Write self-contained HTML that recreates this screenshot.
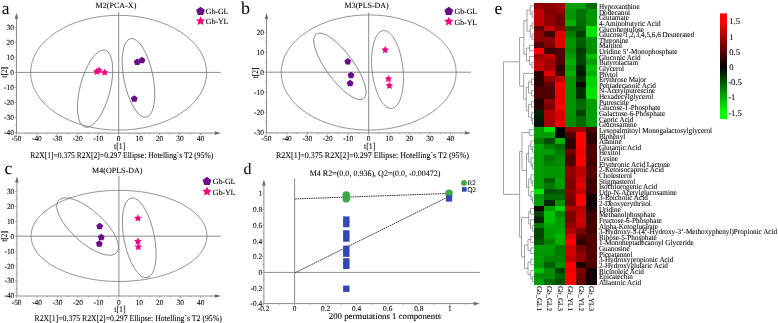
<!DOCTYPE html><html><head><meta charset="utf-8"><style>html,body{margin:0;padding:0;background:#fff;width:778px;height:323px;overflow:hidden}svg{display:block;font-family:"Liberation Serif",serif;text-rendering:geometricPrecision;will-change:transform;filter:blur(0.3px)} text{stroke:#000;stroke-width:0.08px}</style></head><body><svg width="778" height="323" viewBox="0 0 778 323" font-family="Liberation Serif">
<rect width="778" height="323" fill="#fff"/>
<line x1="118.70" y1="12.10" x2="118.70" y2="133.10" stroke="#8c8c8c" stroke-width="1" />
<line x1="16.50" y1="72.40" x2="220.90" y2="72.40" stroke="#8c8c8c" stroke-width="1" />
<ellipse cx="118.60" cy="72.70" rx="88.00" ry="57.40" transform="rotate(0.00 118.60 72.70)" fill="none" stroke="#7a7a7a" stroke-width="0.8"/>
<ellipse cx="95.10" cy="88.65" rx="15.08" ry="39.83" transform="rotate(14.50 95.10 88.65)" fill="none" stroke="#7a7a7a" stroke-width="0.8"/>
<ellipse cx="138.46" cy="77.91" rx="14.58" ry="40.05" transform="rotate(-11.30 138.46 77.91)" fill="none" stroke="#7a7a7a" stroke-width="0.8"/>
<line x1="16.50" y1="133.10" x2="218.90" y2="133.10" stroke="#8c8c8c" stroke-width="1" />
<line x1="16.50" y1="133.10" x2="16.50" y2="14.80" stroke="#8c8c8c" stroke-width="1" />
<polygon points="16.50,12.80 14.70,18.80 18.30,18.80" fill="#6e6e6e"/>
<polygon points="220.90,133.10 214.90,131.30 214.90,134.90" fill="#6e6e6e"/>
<line x1="16.45" y1="133.10" x2="16.45" y2="134.90" stroke="#8c8c8c" stroke-width="0.8" />
<text x="16.45" y="141.20" font-size="7.8" text-anchor="middle" fill="#000"  textLength="9.86" lengthAdjust="spacingAndGlyphs">-50</text>
<line x1="26.68" y1="133.10" x2="26.68" y2="134.30" stroke="#8c8c8c" stroke-width="0.8" />
<line x1="36.90" y1="133.10" x2="36.90" y2="134.90" stroke="#8c8c8c" stroke-width="0.8" />
<text x="36.90" y="141.20" font-size="7.8" text-anchor="middle" fill="#000"  textLength="9.86" lengthAdjust="spacingAndGlyphs">-40</text>
<line x1="47.12" y1="133.10" x2="47.12" y2="134.30" stroke="#8c8c8c" stroke-width="0.8" />
<line x1="57.35" y1="133.10" x2="57.35" y2="134.90" stroke="#8c8c8c" stroke-width="0.8" />
<text x="57.35" y="141.20" font-size="7.8" text-anchor="middle" fill="#000"  textLength="9.86" lengthAdjust="spacingAndGlyphs">-30</text>
<line x1="67.58" y1="133.10" x2="67.58" y2="134.30" stroke="#8c8c8c" stroke-width="0.8" />
<line x1="77.80" y1="133.10" x2="77.80" y2="134.90" stroke="#8c8c8c" stroke-width="0.8" />
<text x="77.80" y="141.20" font-size="7.8" text-anchor="middle" fill="#000"  textLength="9.86" lengthAdjust="spacingAndGlyphs">-20</text>
<line x1="88.03" y1="133.10" x2="88.03" y2="134.30" stroke="#8c8c8c" stroke-width="0.8" />
<line x1="98.25" y1="133.10" x2="98.25" y2="134.90" stroke="#8c8c8c" stroke-width="0.8" />
<text x="98.25" y="141.20" font-size="7.8" text-anchor="middle" fill="#000"  textLength="9.86" lengthAdjust="spacingAndGlyphs">-10</text>
<line x1="108.48" y1="133.10" x2="108.48" y2="134.30" stroke="#8c8c8c" stroke-width="0.8" />
<line x1="118.70" y1="133.10" x2="118.70" y2="134.90" stroke="#8c8c8c" stroke-width="0.8" />
<text x="118.70" y="141.20" font-size="7.8" text-anchor="middle" fill="#000"  textLength="3.70" lengthAdjust="spacingAndGlyphs">0</text>
<line x1="128.93" y1="133.10" x2="128.93" y2="134.30" stroke="#8c8c8c" stroke-width="0.8" />
<line x1="139.15" y1="133.10" x2="139.15" y2="134.90" stroke="#8c8c8c" stroke-width="0.8" />
<text x="139.15" y="141.20" font-size="7.8" text-anchor="middle" fill="#000"  textLength="7.40" lengthAdjust="spacingAndGlyphs">10</text>
<line x1="149.38" y1="133.10" x2="149.38" y2="134.30" stroke="#8c8c8c" stroke-width="0.8" />
<line x1="159.60" y1="133.10" x2="159.60" y2="134.90" stroke="#8c8c8c" stroke-width="0.8" />
<text x="159.60" y="141.20" font-size="7.8" text-anchor="middle" fill="#000"  textLength="7.40" lengthAdjust="spacingAndGlyphs">20</text>
<line x1="169.82" y1="133.10" x2="169.82" y2="134.30" stroke="#8c8c8c" stroke-width="0.8" />
<line x1="180.05" y1="133.10" x2="180.05" y2="134.90" stroke="#8c8c8c" stroke-width="0.8" />
<text x="180.05" y="141.20" font-size="7.8" text-anchor="middle" fill="#000"  textLength="7.40" lengthAdjust="spacingAndGlyphs">30</text>
<line x1="190.28" y1="133.10" x2="190.28" y2="134.30" stroke="#8c8c8c" stroke-width="0.8" />
<line x1="200.50" y1="133.10" x2="200.50" y2="134.90" stroke="#8c8c8c" stroke-width="0.8" />
<text x="200.50" y="141.20" font-size="7.8" text-anchor="middle" fill="#000"  textLength="7.40" lengthAdjust="spacingAndGlyphs">40</text>
<line x1="210.72" y1="133.10" x2="210.72" y2="134.30" stroke="#8c8c8c" stroke-width="0.8" />
<line x1="14.70" y1="132.72" x2="16.50" y2="132.72" stroke="#8c8c8c" stroke-width="0.8" />
<text x="13.90" y="135.22" font-size="7.8" text-anchor="end" fill="#000"  textLength="9.86" lengthAdjust="spacingAndGlyphs">-40</text>
<line x1="15.30" y1="125.18" x2="16.50" y2="125.18" stroke="#8c8c8c" stroke-width="0.8" />
<line x1="14.70" y1="117.64" x2="16.50" y2="117.64" stroke="#8c8c8c" stroke-width="0.8" />
<text x="13.90" y="120.14" font-size="7.8" text-anchor="end" fill="#000"  textLength="9.86" lengthAdjust="spacingAndGlyphs">-30</text>
<line x1="15.30" y1="110.10" x2="16.50" y2="110.10" stroke="#8c8c8c" stroke-width="0.8" />
<line x1="14.70" y1="102.56" x2="16.50" y2="102.56" stroke="#8c8c8c" stroke-width="0.8" />
<text x="13.90" y="105.06" font-size="7.8" text-anchor="end" fill="#000"  textLength="9.86" lengthAdjust="spacingAndGlyphs">-20</text>
<line x1="15.30" y1="95.02" x2="16.50" y2="95.02" stroke="#8c8c8c" stroke-width="0.8" />
<line x1="14.70" y1="87.48" x2="16.50" y2="87.48" stroke="#8c8c8c" stroke-width="0.8" />
<text x="13.90" y="89.98" font-size="7.8" text-anchor="end" fill="#000"  textLength="9.86" lengthAdjust="spacingAndGlyphs">-10</text>
<line x1="15.30" y1="79.94" x2="16.50" y2="79.94" stroke="#8c8c8c" stroke-width="0.8" />
<line x1="14.70" y1="72.40" x2="16.50" y2="72.40" stroke="#8c8c8c" stroke-width="0.8" />
<text x="13.90" y="74.90" font-size="7.8" text-anchor="end" fill="#000"  textLength="3.70" lengthAdjust="spacingAndGlyphs">0</text>
<line x1="15.30" y1="64.86" x2="16.50" y2="64.86" stroke="#8c8c8c" stroke-width="0.8" />
<line x1="14.70" y1="57.32" x2="16.50" y2="57.32" stroke="#8c8c8c" stroke-width="0.8" />
<text x="13.90" y="59.82" font-size="7.8" text-anchor="end" fill="#000"  textLength="7.40" lengthAdjust="spacingAndGlyphs">10</text>
<line x1="15.30" y1="49.78" x2="16.50" y2="49.78" stroke="#8c8c8c" stroke-width="0.8" />
<line x1="14.70" y1="42.24" x2="16.50" y2="42.24" stroke="#8c8c8c" stroke-width="0.8" />
<text x="13.90" y="44.74" font-size="7.8" text-anchor="end" fill="#000"  textLength="7.40" lengthAdjust="spacingAndGlyphs">20</text>
<line x1="15.30" y1="34.70" x2="16.50" y2="34.70" stroke="#8c8c8c" stroke-width="0.8" />
<line x1="14.70" y1="27.16" x2="16.50" y2="27.16" stroke="#8c8c8c" stroke-width="0.8" />
<text x="13.90" y="29.66" font-size="7.8" text-anchor="end" fill="#000"  textLength="7.40" lengthAdjust="spacingAndGlyphs">30</text>
<text x="119.70" y="149.00" font-size="8.8" text-anchor="middle" fill="#000"  textLength="11.41" lengthAdjust="spacingAndGlyphs">t[1]</text>
<text x="4.40" y="72.30" font-size="8.6" text-anchor="middle" fill="#000" transform="rotate(-90 4.40 72.30)" dominant-baseline="central" textLength="10.68" lengthAdjust="spacingAndGlyphs">t[2]</text>
<text x="95.60" y="7.90" font-size="8" text-anchor="start" fill="#000" textLength="40.7">M2(PCA-X)</text>
<text x="30.30" y="157.60" font-size="8.7" text-anchor="start" fill="#000" textLength="183.0" lengthAdjust="spacingAndGlyphs">R2X[1]=0.375 R2X[2]=0.297 Ellipse: Hotelling`s T2 (95%)</text>
<polygon points="137.20,58.40 140.62,60.89 139.32,64.91 135.08,64.91 133.78,60.89" fill="#6a0a86"/>
<polygon points="141.90,56.80 145.32,59.29 144.02,63.31 139.78,63.31 138.48,59.29" fill="#6a0a86"/>
<polygon points="134.30,95.20 137.72,97.69 136.42,101.71 132.18,101.71 130.88,97.69" fill="#6a0a86"/>
<polygon points="96.80,67.70 97.98,70.08 100.60,70.46 98.70,72.32 99.15,74.94 96.80,73.70 94.45,74.94 94.90,72.32 93.00,70.46 95.62,70.08" fill="#f0077f"/>
<polygon points="99.00,66.30 100.18,68.68 102.80,69.06 100.90,70.92 101.35,73.54 99.00,72.30 96.65,73.54 97.10,70.92 95.20,69.06 97.82,68.68" fill="#f0077f"/>
<polygon points="104.70,68.50 105.88,70.88 108.50,71.26 106.60,73.12 107.05,75.74 104.70,74.50 102.35,75.74 102.80,73.12 100.90,71.26 103.52,70.88" fill="#f0077f"/>
<polygon points="200.50,6.70 204.87,9.88 203.20,15.02 197.80,15.02 196.13,9.88" fill="#6a0a86"/>
<polygon points="200.50,16.30 201.91,19.16 205.07,19.62 202.78,21.84 203.32,24.98 200.50,23.50 197.68,24.98 198.22,21.84 195.93,19.62 199.09,19.16" fill="#f0077f"/>
<text x="205.80" y="13.90" font-size="8" text-anchor="start" fill="#000" textLength="22.7">Gb-GL</text>
<text x="205.80" y="24.20" font-size="8" text-anchor="start" fill="#000" textLength="22.7">Gb-YL</text>
<text x="1.70" y="14.00" font-size="17.5" text-anchor="start" fill="#000" style="stroke:none">a</text>
<line x1="368.70" y1="12.60" x2="368.70" y2="132.90" stroke="#8c8c8c" stroke-width="1" />
<line x1="266.50" y1="72.20" x2="470.90" y2="72.20" stroke="#8c8c8c" stroke-width="1" />
<ellipse cx="368.70" cy="72.50" rx="87.50" ry="57.60" transform="rotate(0.00 368.70 72.50)" fill="none" stroke="#7a7a7a" stroke-width="0.8"/>
<ellipse cx="339.90" cy="66.35" rx="13.60" ry="40.10" transform="rotate(-36.30 339.90 66.35)" fill="none" stroke="#7a7a7a" stroke-width="0.8"/>
<ellipse cx="387.50" cy="69.50" rx="15.50" ry="39.20" transform="rotate(-6.20 387.50 69.50)" fill="none" stroke="#7a7a7a" stroke-width="0.8"/>
<line x1="266.50" y1="132.90" x2="468.90" y2="132.90" stroke="#8c8c8c" stroke-width="1" />
<line x1="266.50" y1="132.90" x2="266.50" y2="15.00" stroke="#8c8c8c" stroke-width="1" />
<polygon points="266.50,13.00 264.70,19.00 268.30,19.00" fill="#6e6e6e"/>
<polygon points="470.90,132.90 464.90,131.10 464.90,134.70" fill="#6e6e6e"/>
<line x1="266.45" y1="132.90" x2="266.45" y2="134.70" stroke="#8c8c8c" stroke-width="0.8" />
<text x="266.45" y="141.20" font-size="7.8" text-anchor="middle" fill="#000"  textLength="9.86" lengthAdjust="spacingAndGlyphs">-50</text>
<line x1="276.68" y1="132.90" x2="276.68" y2="134.10" stroke="#8c8c8c" stroke-width="0.8" />
<line x1="286.90" y1="132.90" x2="286.90" y2="134.70" stroke="#8c8c8c" stroke-width="0.8" />
<text x="286.90" y="141.20" font-size="7.8" text-anchor="middle" fill="#000"  textLength="9.86" lengthAdjust="spacingAndGlyphs">-40</text>
<line x1="297.12" y1="132.90" x2="297.12" y2="134.10" stroke="#8c8c8c" stroke-width="0.8" />
<line x1="307.35" y1="132.90" x2="307.35" y2="134.70" stroke="#8c8c8c" stroke-width="0.8" />
<text x="307.35" y="141.20" font-size="7.8" text-anchor="middle" fill="#000"  textLength="9.86" lengthAdjust="spacingAndGlyphs">-30</text>
<line x1="317.57" y1="132.90" x2="317.57" y2="134.10" stroke="#8c8c8c" stroke-width="0.8" />
<line x1="327.80" y1="132.90" x2="327.80" y2="134.70" stroke="#8c8c8c" stroke-width="0.8" />
<text x="327.80" y="141.20" font-size="7.8" text-anchor="middle" fill="#000"  textLength="9.86" lengthAdjust="spacingAndGlyphs">-20</text>
<line x1="338.02" y1="132.90" x2="338.02" y2="134.10" stroke="#8c8c8c" stroke-width="0.8" />
<line x1="348.25" y1="132.90" x2="348.25" y2="134.70" stroke="#8c8c8c" stroke-width="0.8" />
<text x="348.25" y="141.20" font-size="7.8" text-anchor="middle" fill="#000"  textLength="9.86" lengthAdjust="spacingAndGlyphs">-10</text>
<line x1="358.47" y1="132.90" x2="358.47" y2="134.10" stroke="#8c8c8c" stroke-width="0.8" />
<line x1="368.70" y1="132.90" x2="368.70" y2="134.70" stroke="#8c8c8c" stroke-width="0.8" />
<text x="368.70" y="141.20" font-size="7.8" text-anchor="middle" fill="#000"  textLength="3.70" lengthAdjust="spacingAndGlyphs">0</text>
<line x1="378.93" y1="132.90" x2="378.93" y2="134.10" stroke="#8c8c8c" stroke-width="0.8" />
<line x1="389.15" y1="132.90" x2="389.15" y2="134.70" stroke="#8c8c8c" stroke-width="0.8" />
<text x="389.15" y="141.20" font-size="7.8" text-anchor="middle" fill="#000"  textLength="7.40" lengthAdjust="spacingAndGlyphs">10</text>
<line x1="399.38" y1="132.90" x2="399.38" y2="134.10" stroke="#8c8c8c" stroke-width="0.8" />
<line x1="409.60" y1="132.90" x2="409.60" y2="134.70" stroke="#8c8c8c" stroke-width="0.8" />
<text x="409.60" y="141.20" font-size="7.8" text-anchor="middle" fill="#000"  textLength="7.40" lengthAdjust="spacingAndGlyphs">20</text>
<line x1="419.82" y1="132.90" x2="419.82" y2="134.10" stroke="#8c8c8c" stroke-width="0.8" />
<line x1="430.05" y1="132.90" x2="430.05" y2="134.70" stroke="#8c8c8c" stroke-width="0.8" />
<text x="430.05" y="141.20" font-size="7.8" text-anchor="middle" fill="#000"  textLength="7.40" lengthAdjust="spacingAndGlyphs">30</text>
<line x1="440.27" y1="132.90" x2="440.27" y2="134.10" stroke="#8c8c8c" stroke-width="0.8" />
<line x1="450.50" y1="132.90" x2="450.50" y2="134.70" stroke="#8c8c8c" stroke-width="0.8" />
<text x="450.50" y="141.20" font-size="7.8" text-anchor="middle" fill="#000"  textLength="7.40" lengthAdjust="spacingAndGlyphs">40</text>
<line x1="460.72" y1="132.90" x2="460.72" y2="134.10" stroke="#8c8c8c" stroke-width="0.8" />
<line x1="264.70" y1="132.20" x2="266.50" y2="132.20" stroke="#8c8c8c" stroke-width="0.8" />
<text x="263.90" y="134.70" font-size="7.8" text-anchor="end" fill="#000"  textLength="9.86" lengthAdjust="spacingAndGlyphs">-30</text>
<line x1="265.30" y1="122.20" x2="266.50" y2="122.20" stroke="#8c8c8c" stroke-width="0.8" />
<line x1="264.70" y1="112.20" x2="266.50" y2="112.20" stroke="#8c8c8c" stroke-width="0.8" />
<text x="263.90" y="114.70" font-size="7.8" text-anchor="end" fill="#000"  textLength="9.86" lengthAdjust="spacingAndGlyphs">-20</text>
<line x1="265.30" y1="102.20" x2="266.50" y2="102.20" stroke="#8c8c8c" stroke-width="0.8" />
<line x1="264.70" y1="92.20" x2="266.50" y2="92.20" stroke="#8c8c8c" stroke-width="0.8" />
<text x="263.90" y="94.70" font-size="7.8" text-anchor="end" fill="#000"  textLength="9.86" lengthAdjust="spacingAndGlyphs">-10</text>
<line x1="265.30" y1="82.20" x2="266.50" y2="82.20" stroke="#8c8c8c" stroke-width="0.8" />
<line x1="264.70" y1="72.20" x2="266.50" y2="72.20" stroke="#8c8c8c" stroke-width="0.8" />
<text x="263.90" y="74.70" font-size="7.8" text-anchor="end" fill="#000"  textLength="3.70" lengthAdjust="spacingAndGlyphs">0</text>
<line x1="265.30" y1="62.20" x2="266.50" y2="62.20" stroke="#8c8c8c" stroke-width="0.8" />
<line x1="264.70" y1="52.20" x2="266.50" y2="52.20" stroke="#8c8c8c" stroke-width="0.8" />
<text x="263.90" y="54.70" font-size="7.8" text-anchor="end" fill="#000"  textLength="7.40" lengthAdjust="spacingAndGlyphs">10</text>
<line x1="265.30" y1="42.20" x2="266.50" y2="42.20" stroke="#8c8c8c" stroke-width="0.8" />
<line x1="264.70" y1="32.20" x2="266.50" y2="32.20" stroke="#8c8c8c" stroke-width="0.8" />
<text x="263.90" y="34.70" font-size="7.8" text-anchor="end" fill="#000"  textLength="7.40" lengthAdjust="spacingAndGlyphs">20</text>
<text x="369.70" y="149.00" font-size="8.8" text-anchor="middle" fill="#000"  textLength="11.41" lengthAdjust="spacingAndGlyphs">t[1]</text>
<text x="254.80" y="73.00" font-size="8.6" text-anchor="middle" fill="#000" transform="rotate(-90 254.80 73.00)" dominant-baseline="central" textLength="10.68" lengthAdjust="spacingAndGlyphs">t[2]</text>
<text x="344.60" y="8.10" font-size="8" text-anchor="start" fill="#000" textLength="44.1">M3(PLS-DA)</text>
<text x="275.90" y="157.60" font-size="8.7" text-anchor="start" fill="#000" textLength="193.0" lengthAdjust="spacingAndGlyphs">R2X[1]=0.375 R2X[2]=0.297 Ellipse: Hotelling`s T2 (95%)</text>
<polygon points="347.80,58.00 351.22,60.49 349.92,64.51 345.68,64.51 344.38,60.49" fill="#6a0a86"/>
<polygon points="351.00,71.70 354.42,74.19 353.12,78.21 348.88,78.21 347.58,74.19" fill="#6a0a86"/>
<polygon points="350.10,79.80 353.52,82.29 352.22,86.31 347.98,86.31 346.68,82.29" fill="#6a0a86"/>
<polygon points="385.20,45.90 386.38,48.28 389.00,48.66 387.10,50.52 387.55,53.14 385.20,51.90 382.85,53.14 383.30,50.52 381.40,48.66 384.02,48.28" fill="#f0077f"/>
<polygon points="388.50,74.90 389.68,77.28 392.30,77.66 390.40,79.52 390.85,82.14 388.50,80.90 386.15,82.14 386.60,79.52 384.70,77.66 387.32,77.28" fill="#f0077f"/>
<polygon points="389.40,81.70 390.58,84.08 393.20,84.46 391.30,86.32 391.75,88.94 389.40,87.70 387.05,88.94 387.50,86.32 385.60,84.46 388.22,84.08" fill="#f0077f"/>
<polygon points="448.80,6.80 453.17,9.98 451.50,15.12 446.10,15.12 444.43,9.98" fill="#6a0a86"/>
<polygon points="448.80,16.70 450.21,19.56 453.37,20.02 451.08,22.24 451.62,25.38 448.80,23.90 445.98,25.38 446.52,22.24 444.23,20.02 447.39,19.56" fill="#f0077f"/>
<text x="454.50" y="14.00" font-size="8" text-anchor="start" fill="#000" textLength="22.7">Gb-GL</text>
<text x="454.50" y="24.60" font-size="8" text-anchor="start" fill="#000" textLength="22.7">Gb-YL</text>
<text x="241.00" y="14.10" font-size="18" text-anchor="start" fill="#000" style="stroke:none">b</text>
<line x1="118.90" y1="176.00" x2="118.90" y2="296.00" stroke="#8c8c8c" stroke-width="1" />
<line x1="16.90" y1="236.20" x2="220.90" y2="236.20" stroke="#8c8c8c" stroke-width="1" />
<ellipse cx="119.00" cy="235.90" rx="88.00" ry="45.60" transform="rotate(0.00 119.00 235.90)" fill="none" stroke="#7a7a7a" stroke-width="0.8"/>
<ellipse cx="87.60" cy="226.55" rx="15.90" ry="39.10" transform="rotate(-47.90 87.60 226.55)" fill="none" stroke="#7a7a7a" stroke-width="0.8"/>
<ellipse cx="139.20" cy="237.85" rx="15.20" ry="40.60" transform="rotate(-11.25 139.20 237.85)" fill="none" stroke="#7a7a7a" stroke-width="0.8"/>
<line x1="16.90" y1="296.00" x2="218.90" y2="296.00" stroke="#8c8c8c" stroke-width="1" />
<line x1="16.90" y1="296.00" x2="16.90" y2="178.60" stroke="#8c8c8c" stroke-width="1" />
<polygon points="16.90,176.60 15.10,182.60 18.70,182.60" fill="#6e6e6e"/>
<polygon points="220.90,296.00 214.90,294.20 214.90,297.80" fill="#6e6e6e"/>
<line x1="16.65" y1="296.00" x2="16.65" y2="297.80" stroke="#8c8c8c" stroke-width="0.8" />
<text x="16.65" y="305.30" font-size="7.8" text-anchor="middle" fill="#000"  textLength="9.86" lengthAdjust="spacingAndGlyphs">-50</text>
<line x1="26.88" y1="296.00" x2="26.88" y2="297.20" stroke="#8c8c8c" stroke-width="0.8" />
<line x1="37.10" y1="296.00" x2="37.10" y2="297.80" stroke="#8c8c8c" stroke-width="0.8" />
<text x="37.10" y="305.30" font-size="7.8" text-anchor="middle" fill="#000"  textLength="9.86" lengthAdjust="spacingAndGlyphs">-40</text>
<line x1="47.33" y1="296.00" x2="47.33" y2="297.20" stroke="#8c8c8c" stroke-width="0.8" />
<line x1="57.55" y1="296.00" x2="57.55" y2="297.80" stroke="#8c8c8c" stroke-width="0.8" />
<text x="57.55" y="305.30" font-size="7.8" text-anchor="middle" fill="#000"  textLength="9.86" lengthAdjust="spacingAndGlyphs">-30</text>
<line x1="67.78" y1="296.00" x2="67.78" y2="297.20" stroke="#8c8c8c" stroke-width="0.8" />
<line x1="78.00" y1="296.00" x2="78.00" y2="297.80" stroke="#8c8c8c" stroke-width="0.8" />
<text x="78.00" y="305.30" font-size="7.8" text-anchor="middle" fill="#000"  textLength="9.86" lengthAdjust="spacingAndGlyphs">-20</text>
<line x1="88.23" y1="296.00" x2="88.23" y2="297.20" stroke="#8c8c8c" stroke-width="0.8" />
<line x1="98.45" y1="296.00" x2="98.45" y2="297.80" stroke="#8c8c8c" stroke-width="0.8" />
<text x="98.45" y="305.30" font-size="7.8" text-anchor="middle" fill="#000"  textLength="9.86" lengthAdjust="spacingAndGlyphs">-10</text>
<line x1="108.68" y1="296.00" x2="108.68" y2="297.20" stroke="#8c8c8c" stroke-width="0.8" />
<line x1="118.90" y1="296.00" x2="118.90" y2="297.80" stroke="#8c8c8c" stroke-width="0.8" />
<text x="118.90" y="305.30" font-size="7.8" text-anchor="middle" fill="#000"  textLength="3.70" lengthAdjust="spacingAndGlyphs">0</text>
<line x1="129.12" y1="296.00" x2="129.12" y2="297.20" stroke="#8c8c8c" stroke-width="0.8" />
<line x1="139.35" y1="296.00" x2="139.35" y2="297.80" stroke="#8c8c8c" stroke-width="0.8" />
<text x="139.35" y="305.30" font-size="7.8" text-anchor="middle" fill="#000"  textLength="7.40" lengthAdjust="spacingAndGlyphs">10</text>
<line x1="149.57" y1="296.00" x2="149.57" y2="297.20" stroke="#8c8c8c" stroke-width="0.8" />
<line x1="159.80" y1="296.00" x2="159.80" y2="297.80" stroke="#8c8c8c" stroke-width="0.8" />
<text x="159.80" y="305.30" font-size="7.8" text-anchor="middle" fill="#000"  textLength="7.40" lengthAdjust="spacingAndGlyphs">20</text>
<line x1="170.03" y1="296.00" x2="170.03" y2="297.20" stroke="#8c8c8c" stroke-width="0.8" />
<line x1="180.25" y1="296.00" x2="180.25" y2="297.80" stroke="#8c8c8c" stroke-width="0.8" />
<text x="180.25" y="305.30" font-size="7.8" text-anchor="middle" fill="#000"  textLength="7.40" lengthAdjust="spacingAndGlyphs">30</text>
<line x1="190.48" y1="296.00" x2="190.48" y2="297.20" stroke="#8c8c8c" stroke-width="0.8" />
<line x1="200.70" y1="296.00" x2="200.70" y2="297.80" stroke="#8c8c8c" stroke-width="0.8" />
<text x="200.70" y="305.30" font-size="7.8" text-anchor="middle" fill="#000"  textLength="7.40" lengthAdjust="spacingAndGlyphs">40</text>
<line x1="210.93" y1="296.00" x2="210.93" y2="297.20" stroke="#8c8c8c" stroke-width="0.8" />
<line x1="15.10" y1="295.80" x2="16.90" y2="295.80" stroke="#8c8c8c" stroke-width="0.8" />
<text x="14.30" y="298.30" font-size="7.8" text-anchor="end" fill="#000"  textLength="9.86" lengthAdjust="spacingAndGlyphs">-40</text>
<line x1="15.70" y1="288.35" x2="16.90" y2="288.35" stroke="#8c8c8c" stroke-width="0.8" />
<line x1="15.10" y1="280.90" x2="16.90" y2="280.90" stroke="#8c8c8c" stroke-width="0.8" />
<text x="14.30" y="283.40" font-size="7.8" text-anchor="end" fill="#000"  textLength="9.86" lengthAdjust="spacingAndGlyphs">-30</text>
<line x1="15.70" y1="273.45" x2="16.90" y2="273.45" stroke="#8c8c8c" stroke-width="0.8" />
<line x1="15.10" y1="266.00" x2="16.90" y2="266.00" stroke="#8c8c8c" stroke-width="0.8" />
<text x="14.30" y="268.50" font-size="7.8" text-anchor="end" fill="#000"  textLength="9.86" lengthAdjust="spacingAndGlyphs">-20</text>
<line x1="15.70" y1="258.55" x2="16.90" y2="258.55" stroke="#8c8c8c" stroke-width="0.8" />
<line x1="15.10" y1="251.10" x2="16.90" y2="251.10" stroke="#8c8c8c" stroke-width="0.8" />
<text x="14.30" y="253.60" font-size="7.8" text-anchor="end" fill="#000"  textLength="9.86" lengthAdjust="spacingAndGlyphs">-10</text>
<line x1="15.70" y1="243.65" x2="16.90" y2="243.65" stroke="#8c8c8c" stroke-width="0.8" />
<line x1="15.10" y1="236.20" x2="16.90" y2="236.20" stroke="#8c8c8c" stroke-width="0.8" />
<text x="14.30" y="238.70" font-size="7.8" text-anchor="end" fill="#000"  textLength="3.70" lengthAdjust="spacingAndGlyphs">0</text>
<line x1="15.70" y1="228.75" x2="16.90" y2="228.75" stroke="#8c8c8c" stroke-width="0.8" />
<line x1="15.10" y1="221.30" x2="16.90" y2="221.30" stroke="#8c8c8c" stroke-width="0.8" />
<text x="14.30" y="223.80" font-size="7.8" text-anchor="end" fill="#000"  textLength="7.40" lengthAdjust="spacingAndGlyphs">10</text>
<line x1="15.70" y1="213.85" x2="16.90" y2="213.85" stroke="#8c8c8c" stroke-width="0.8" />
<line x1="15.10" y1="206.40" x2="16.90" y2="206.40" stroke="#8c8c8c" stroke-width="0.8" />
<text x="14.30" y="208.90" font-size="7.8" text-anchor="end" fill="#000"  textLength="7.40" lengthAdjust="spacingAndGlyphs">20</text>
<line x1="15.70" y1="198.95" x2="16.90" y2="198.95" stroke="#8c8c8c" stroke-width="0.8" />
<line x1="15.10" y1="191.50" x2="16.90" y2="191.50" stroke="#8c8c8c" stroke-width="0.8" />
<text x="14.30" y="194.00" font-size="7.8" text-anchor="end" fill="#000"  textLength="7.40" lengthAdjust="spacingAndGlyphs">30</text>
<text x="119.90" y="312.40" font-size="8.8" text-anchor="middle" fill="#000"  textLength="11.41" lengthAdjust="spacingAndGlyphs">t[1]</text>
<text x="4.00" y="236.40" font-size="8.6" text-anchor="middle" fill="#000" transform="rotate(-90 4.00 236.40)" dominant-baseline="central" textLength="10.68" lengthAdjust="spacingAndGlyphs">t[2]</text>
<text x="92.10" y="173.40" font-size="8" text-anchor="start" fill="#000" textLength="50.4">M4(OPLS-DA)</text>
<text x="34.50" y="320.60" font-size="8.7" text-anchor="start" fill="#000" textLength="187.3" lengthAdjust="spacingAndGlyphs">R2X[1]=0.375 R2X[2]=0.297 Ellipse: Hotelling`s T2 (95%)</text>
<polygon points="99.70,222.80 103.12,225.29 101.82,229.31 97.58,229.31 96.28,225.29" fill="#6a0a86"/>
<polygon points="101.30,233.80 104.72,236.29 103.42,240.31 99.18,240.31 97.88,236.29" fill="#6a0a86"/>
<polygon points="99.30,240.30 102.72,242.79 101.42,246.81 97.18,246.81 95.88,242.79" fill="#6a0a86"/>
<polygon points="137.90,214.30 139.08,216.68 141.70,217.06 139.80,218.92 140.25,221.54 137.90,220.30 135.55,221.54 136.00,218.92 134.10,217.06 136.72,216.68" fill="#f0077f"/>
<polygon points="137.90,237.40 139.08,239.78 141.70,240.16 139.80,242.02 140.25,244.64 137.90,243.40 135.55,244.64 136.00,242.02 134.10,240.16 136.72,239.78" fill="#f0077f"/>
<polygon points="138.30,243.00 139.48,245.38 142.10,245.76 140.20,247.62 140.65,250.24 138.30,249.00 135.95,250.24 136.40,247.62 134.50,245.76 137.12,245.38" fill="#f0077f"/>
<polygon points="207.00,176.70 211.37,179.88 209.70,185.02 204.30,185.02 202.63,179.88" fill="#6a0a86"/>
<polygon points="207.00,186.70 208.41,189.56 211.57,190.02 209.28,192.24 209.82,195.38 207.00,193.90 204.18,195.38 204.72,192.24 202.43,190.02 205.59,189.56" fill="#f0077f"/>
<text x="212.75" y="183.90" font-size="8" text-anchor="start" fill="#000" textLength="22.7">Gb-GL</text>
<text x="212.75" y="194.60" font-size="8" text-anchor="start" fill="#000" textLength="22.7">Gb-YL</text>
<text x="4.40" y="173.60" font-size="17.5" text-anchor="start" fill="#000" style="stroke:none">c</text>
<line x1="294.60" y1="178.40" x2="294.60" y2="303.60" stroke="#8c8c8c" stroke-width="1" />
<line x1="263.90" y1="272.40" x2="479.70" y2="272.40" stroke="#8c8c8c" stroke-width="1" />
<line x1="263.90" y1="303.60" x2="477.70" y2="303.60" stroke="#8c8c8c" stroke-width="1" />
<line x1="263.90" y1="303.60" x2="263.90" y2="181.60" stroke="#8c8c8c" stroke-width="1" />
<polygon points="263.90,179.60 262.10,185.60 265.70,185.60" fill="#6e6e6e"/>
<polygon points="479.70,303.60 473.70,301.80 473.70,305.40" fill="#6e6e6e"/>
<line x1="263.56" y1="303.60" x2="263.56" y2="305.40" stroke="#8c8c8c" stroke-width="0.8" />
<text x="263.56" y="311.00" font-size="7.8" text-anchor="middle" fill="#000"  textLength="11.71" lengthAdjust="spacingAndGlyphs">-0.2</text>
<line x1="279.08" y1="303.60" x2="279.08" y2="304.80" stroke="#8c8c8c" stroke-width="0.8" />
<line x1="294.60" y1="303.60" x2="294.60" y2="305.40" stroke="#8c8c8c" stroke-width="0.8" />
<text x="294.60" y="311.00" font-size="7.8" text-anchor="middle" fill="#000"  textLength="3.70" lengthAdjust="spacingAndGlyphs">0</text>
<line x1="310.12" y1="303.60" x2="310.12" y2="304.80" stroke="#8c8c8c" stroke-width="0.8" />
<line x1="325.64" y1="303.60" x2="325.64" y2="305.40" stroke="#8c8c8c" stroke-width="0.8" />
<text x="325.64" y="311.00" font-size="7.8" text-anchor="middle" fill="#000"  textLength="9.25" lengthAdjust="spacingAndGlyphs">0.2</text>
<line x1="341.16" y1="303.60" x2="341.16" y2="304.80" stroke="#8c8c8c" stroke-width="0.8" />
<line x1="356.68" y1="303.60" x2="356.68" y2="305.40" stroke="#8c8c8c" stroke-width="0.8" />
<text x="356.68" y="311.00" font-size="7.8" text-anchor="middle" fill="#000"  textLength="9.25" lengthAdjust="spacingAndGlyphs">0.4</text>
<line x1="372.20" y1="303.60" x2="372.20" y2="304.80" stroke="#8c8c8c" stroke-width="0.8" />
<line x1="387.72" y1="303.60" x2="387.72" y2="305.40" stroke="#8c8c8c" stroke-width="0.8" />
<text x="387.72" y="311.00" font-size="7.8" text-anchor="middle" fill="#000"  textLength="9.25" lengthAdjust="spacingAndGlyphs">0.6</text>
<line x1="403.24" y1="303.60" x2="403.24" y2="304.80" stroke="#8c8c8c" stroke-width="0.8" />
<line x1="418.76" y1="303.60" x2="418.76" y2="305.40" stroke="#8c8c8c" stroke-width="0.8" />
<text x="418.76" y="311.00" font-size="7.8" text-anchor="middle" fill="#000"  textLength="9.25" lengthAdjust="spacingAndGlyphs">0.8</text>
<line x1="434.28" y1="303.60" x2="434.28" y2="304.80" stroke="#8c8c8c" stroke-width="0.8" />
<line x1="449.80" y1="303.60" x2="449.80" y2="305.40" stroke="#8c8c8c" stroke-width="0.8" />
<text x="449.80" y="311.00" font-size="7.8" text-anchor="middle" fill="#000"  textLength="3.70" lengthAdjust="spacingAndGlyphs">1</text>
<line x1="465.32" y1="303.60" x2="465.32" y2="304.80" stroke="#8c8c8c" stroke-width="0.8" />
<line x1="262.10" y1="303.80" x2="263.90" y2="303.80" stroke="#8c8c8c" stroke-width="0.8" />
<text x="262.10" y="306.30" font-size="7.8" text-anchor="end" fill="#000"  textLength="11.56" lengthAdjust="spacingAndGlyphs">-0.4</text>
<line x1="262.70" y1="295.95" x2="263.90" y2="295.95" stroke="#8c8c8c" stroke-width="0.8" />
<line x1="262.10" y1="288.10" x2="263.90" y2="288.10" stroke="#8c8c8c" stroke-width="0.8" />
<text x="262.10" y="290.60" font-size="7.8" text-anchor="end" fill="#000"  textLength="11.56" lengthAdjust="spacingAndGlyphs">-0.2</text>
<line x1="262.70" y1="280.25" x2="263.90" y2="280.25" stroke="#8c8c8c" stroke-width="0.8" />
<line x1="262.10" y1="272.40" x2="263.90" y2="272.40" stroke="#8c8c8c" stroke-width="0.8" />
<text x="262.10" y="274.90" font-size="7.8" text-anchor="end" fill="#000"  textLength="3.65" lengthAdjust="spacingAndGlyphs">0</text>
<line x1="262.70" y1="264.55" x2="263.90" y2="264.55" stroke="#8c8c8c" stroke-width="0.8" />
<line x1="262.10" y1="256.70" x2="263.90" y2="256.70" stroke="#8c8c8c" stroke-width="0.8" />
<text x="262.10" y="259.20" font-size="7.8" text-anchor="end" fill="#000"  textLength="9.12" lengthAdjust="spacingAndGlyphs">0.2</text>
<line x1="262.70" y1="248.85" x2="263.90" y2="248.85" stroke="#8c8c8c" stroke-width="0.8" />
<line x1="262.10" y1="241.00" x2="263.90" y2="241.00" stroke="#8c8c8c" stroke-width="0.8" />
<text x="262.10" y="243.50" font-size="7.8" text-anchor="end" fill="#000"  textLength="9.12" lengthAdjust="spacingAndGlyphs">0.4</text>
<line x1="262.70" y1="233.15" x2="263.90" y2="233.15" stroke="#8c8c8c" stroke-width="0.8" />
<line x1="262.10" y1="225.30" x2="263.90" y2="225.30" stroke="#8c8c8c" stroke-width="0.8" />
<text x="262.10" y="227.80" font-size="7.8" text-anchor="end" fill="#000"  textLength="9.12" lengthAdjust="spacingAndGlyphs">0.6</text>
<line x1="262.70" y1="217.45" x2="263.90" y2="217.45" stroke="#8c8c8c" stroke-width="0.8" />
<line x1="262.10" y1="209.60" x2="263.90" y2="209.60" stroke="#8c8c8c" stroke-width="0.8" />
<text x="262.10" y="212.10" font-size="7.8" text-anchor="end" fill="#000"  textLength="9.12" lengthAdjust="spacingAndGlyphs">0.8</text>
<line x1="262.70" y1="201.75" x2="263.90" y2="201.75" stroke="#8c8c8c" stroke-width="0.8" />
<line x1="262.10" y1="193.90" x2="263.90" y2="193.90" stroke="#8c8c8c" stroke-width="0.8" />
<text x="262.10" y="196.40" font-size="7.8" text-anchor="end" fill="#000"  textLength="3.65" lengthAdjust="spacingAndGlyphs">1</text>
<line x1="262.70" y1="186.05" x2="263.90" y2="186.05" stroke="#8c8c8c" stroke-width="0.8" />
<line x1="295.10" y1="198.92" x2="449.80" y2="193.40" stroke="#222" stroke-width="0.9" stroke-dasharray="1.6 0.7"/>
<line x1="295.10" y1="272.77" x2="447.80" y2="197.00" stroke="#222" stroke-width="0.9" stroke-dasharray="1.6 0.7"/>
<rect x="343.10" y="216.40" width="6.4" height="6.3" fill="#3346b8"/>
<rect x="343.10" y="221.00" width="6.4" height="6.3" fill="#3346b8"/>
<rect x="343.10" y="230.20" width="6.4" height="6.3" fill="#3346b8"/>
<rect x="343.10" y="235.40" width="6.4" height="6.3" fill="#3346b8"/>
<rect x="343.10" y="245.60" width="6.4" height="6.3" fill="#3346b8"/>
<rect x="343.10" y="250.60" width="6.4" height="6.3" fill="#3346b8"/>
<rect x="343.10" y="258.20" width="6.4" height="6.3" fill="#3346b8"/>
<rect x="343.10" y="262.70" width="6.4" height="6.3" fill="#3346b8"/>
<rect x="343.10" y="285.60" width="6.4" height="6.3" fill="#3346b8"/>
<circle cx="346.30" cy="195.00" r="3.7" fill="#3caa48"/>
<circle cx="346.30" cy="196.30" r="3.7" fill="#3caa48"/>
<circle cx="346.30" cy="197.60" r="3.7" fill="#3caa48"/>
<circle cx="346.30" cy="198.90" r="3.7" fill="#3caa48"/>
<circle cx="449" cy="193.4" r="3.8" fill="#3caa48"/>
<rect x="446.0" y="195.4" width="6.2" height="6.2" fill="#3346b8"/>
<circle cx="464.0" cy="182.9" r="2.9" fill="#3caa48"/>
<rect x="462.0" y="187.1" width="4.6" height="4.6" fill="#3346b8"/>
<text x="467.50" y="185.20" font-size="7" text-anchor="start" fill="#000" >R2</text>
<text x="467.50" y="191.80" font-size="7" text-anchor="start" fill="#000" >Q2</text>
<text x="309.70" y="176.00" font-size="8.3" text-anchor="start" fill="#000" textLength="130.8" lengthAdjust="spacingAndGlyphs">M4 R2=(0.0, 0.936), Q2=(0.0, -0.00472)</text>
<text x="328.80" y="319.30" font-size="8.8" text-anchor="start" fill="#000" textLength="112.2">200 permutations 1 components</text>
<text x="243.50" y="174.00" font-size="16" text-anchor="start" fill="#000" style="stroke:none">d</text>
<g shape-rendering="crispEdges">
<rect x="534.00" y="3.00" width="10.78" height="5.93" fill="#900000"/>
<rect x="544.48" y="3.00" width="10.78" height="5.93" fill="#8a0000"/>
<rect x="554.97" y="3.00" width="10.78" height="5.93" fill="#a00000"/>
<rect x="565.45" y="3.00" width="10.78" height="5.93" fill="#009e00"/>
<rect x="575.93" y="3.00" width="10.78" height="5.93" fill="#009e00"/>
<rect x="586.42" y="3.00" width="10.78" height="5.93" fill="#006900"/>
<rect x="534.00" y="8.63" width="10.78" height="5.93" fill="#c00000"/>
<rect x="544.48" y="8.63" width="10.78" height="5.93" fill="#800000"/>
<rect x="554.97" y="8.63" width="10.78" height="5.93" fill="#900000"/>
<rect x="565.45" y="8.63" width="10.78" height="5.93" fill="#009700"/>
<rect x="575.93" y="8.63" width="10.78" height="5.93" fill="#007200"/>
<rect x="586.42" y="8.63" width="10.78" height="5.93" fill="#009500"/>
<rect x="534.00" y="14.26" width="10.78" height="5.93" fill="#c00000"/>
<rect x="544.48" y="14.26" width="10.78" height="5.93" fill="#900000"/>
<rect x="554.97" y="14.26" width="10.78" height="5.93" fill="#700000"/>
<rect x="565.45" y="14.26" width="10.78" height="5.93" fill="#009500"/>
<rect x="575.93" y="14.26" width="10.78" height="5.93" fill="#007200"/>
<rect x="586.42" y="14.26" width="10.78" height="5.93" fill="#009700"/>
<rect x="534.00" y="19.89" width="10.78" height="5.93" fill="#c00000"/>
<rect x="544.48" y="19.89" width="10.78" height="5.93" fill="#900000"/>
<rect x="554.97" y="19.89" width="10.78" height="5.93" fill="#700000"/>
<rect x="565.45" y="19.89" width="10.78" height="5.93" fill="#00b000"/>
<rect x="575.93" y="19.89" width="10.78" height="5.93" fill="#006900"/>
<rect x="586.42" y="19.89" width="10.78" height="5.93" fill="#009500"/>
<rect x="534.00" y="25.52" width="10.78" height="5.93" fill="#600000"/>
<rect x="544.48" y="25.52" width="10.78" height="5.93" fill="#c00000"/>
<rect x="554.97" y="25.52" width="10.78" height="5.93" fill="#900000"/>
<rect x="565.45" y="25.52" width="10.78" height="5.93" fill="#006000"/>
<rect x="575.93" y="25.52" width="10.78" height="5.93" fill="#006000"/>
<rect x="586.42" y="25.52" width="10.78" height="5.93" fill="#00e400"/>
<rect x="534.00" y="31.15" width="10.78" height="5.93" fill="#900000"/>
<rect x="544.48" y="31.15" width="10.78" height="5.93" fill="#400000"/>
<rect x="554.97" y="31.15" width="10.78" height="5.93" fill="#e00000"/>
<rect x="565.45" y="31.15" width="10.78" height="5.93" fill="#007b00"/>
<rect x="575.93" y="31.15" width="10.78" height="5.93" fill="#003d00"/>
<rect x="586.42" y="31.15" width="10.78" height="5.93" fill="#00e400"/>
<rect x="534.00" y="36.78" width="10.78" height="5.93" fill="#900000"/>
<rect x="544.48" y="36.78" width="10.78" height="5.93" fill="#900000"/>
<rect x="554.97" y="36.78" width="10.78" height="5.93" fill="#e00000"/>
<rect x="565.45" y="36.78" width="10.78" height="5.93" fill="#009500"/>
<rect x="575.93" y="36.78" width="10.78" height="5.93" fill="#006000"/>
<rect x="586.42" y="36.78" width="10.78" height="5.93" fill="#009500"/>
<rect x="534.00" y="42.41" width="10.78" height="5.93" fill="#500000"/>
<rect x="544.48" y="42.41" width="10.78" height="5.93" fill="#800000"/>
<rect x="554.97" y="42.41" width="10.78" height="5.93" fill="#e00000"/>
<rect x="565.45" y="42.41" width="10.78" height="5.93" fill="#009500"/>
<rect x="575.93" y="42.41" width="10.78" height="5.93" fill="#005800"/>
<rect x="586.42" y="42.41" width="10.78" height="5.93" fill="#009500"/>
<rect x="534.00" y="48.04" width="10.78" height="5.93" fill="#ff0000"/>
<rect x="544.48" y="48.04" width="10.78" height="5.93" fill="#400000"/>
<rect x="554.97" y="48.04" width="10.78" height="5.93" fill="#500000"/>
<rect x="565.45" y="48.04" width="10.78" height="5.93" fill="#008c00"/>
<rect x="575.93" y="48.04" width="10.78" height="5.93" fill="#003d00"/>
<rect x="586.42" y="48.04" width="10.78" height="5.93" fill="#008c00"/>
<rect x="534.00" y="53.67" width="10.78" height="5.93" fill="#a00000"/>
<rect x="544.48" y="53.67" width="10.78" height="5.93" fill="#c00000"/>
<rect x="554.97" y="53.67" width="10.78" height="5.93" fill="#500000"/>
<rect x="565.45" y="53.67" width="10.78" height="5.93" fill="#009e00"/>
<rect x="575.93" y="53.67" width="10.78" height="5.93" fill="#004600"/>
<rect x="586.42" y="53.67" width="10.78" height="5.93" fill="#00c100"/>
<rect x="534.00" y="59.30" width="10.78" height="5.93" fill="#c00000"/>
<rect x="544.48" y="59.30" width="10.78" height="5.93" fill="#a00000"/>
<rect x="554.97" y="59.30" width="10.78" height="5.93" fill="#500000"/>
<rect x="565.45" y="59.30" width="10.78" height="5.93" fill="#00b000"/>
<rect x="575.93" y="59.30" width="10.78" height="5.93" fill="#004600"/>
<rect x="586.42" y="59.30" width="10.78" height="5.93" fill="#009e00"/>
<rect x="534.00" y="64.93" width="10.78" height="5.93" fill="#c00000"/>
<rect x="544.48" y="64.93" width="10.78" height="5.93" fill="#a00000"/>
<rect x="554.97" y="64.93" width="10.78" height="5.93" fill="#300000"/>
<rect x="565.45" y="64.93" width="10.78" height="5.93" fill="#009e00"/>
<rect x="575.93" y="64.93" width="10.78" height="5.93" fill="#002300"/>
<rect x="586.42" y="64.93" width="10.78" height="5.93" fill="#00c100"/>
<rect x="534.00" y="70.56" width="10.78" height="5.93" fill="#300000"/>
<rect x="544.48" y="70.56" width="10.78" height="5.93" fill="#e00000"/>
<rect x="554.97" y="70.56" width="10.78" height="5.93" fill="#400000"/>
<rect x="565.45" y="70.56" width="10.78" height="5.93" fill="#00b000"/>
<rect x="575.93" y="70.56" width="10.78" height="5.93" fill="#001a00"/>
<rect x="586.42" y="70.56" width="10.78" height="5.93" fill="#00b000"/>
<rect x="534.00" y="76.19" width="10.78" height="5.93" fill="#300000"/>
<rect x="544.48" y="76.19" width="10.78" height="5.93" fill="#900000"/>
<rect x="554.97" y="76.19" width="10.78" height="5.93" fill="#c00000"/>
<rect x="565.45" y="76.19" width="10.78" height="5.93" fill="#009500"/>
<rect x="575.93" y="76.19" width="10.78" height="5.93" fill="#003400"/>
<rect x="586.42" y="76.19" width="10.78" height="5.93" fill="#00d300"/>
<rect x="534.00" y="81.82" width="10.78" height="5.93" fill="#300000"/>
<rect x="544.48" y="81.82" width="10.78" height="5.93" fill="#600000"/>
<rect x="554.97" y="81.82" width="10.78" height="5.93" fill="#ff0000"/>
<rect x="565.45" y="81.82" width="10.78" height="5.93" fill="#009500"/>
<rect x="575.93" y="81.82" width="10.78" height="5.93" fill="#100000"/>
<rect x="586.42" y="81.82" width="10.78" height="5.93" fill="#00d300"/>
<rect x="534.00" y="87.45" width="10.78" height="5.93" fill="#500000"/>
<rect x="544.48" y="87.45" width="10.78" height="5.93" fill="#500000"/>
<rect x="554.97" y="87.45" width="10.78" height="5.93" fill="#f00000"/>
<rect x="565.45" y="87.45" width="10.78" height="5.93" fill="#009500"/>
<rect x="575.93" y="87.45" width="10.78" height="5.93" fill="#002c00"/>
<rect x="586.42" y="87.45" width="10.78" height="5.93" fill="#00e400"/>
<rect x="534.00" y="93.08" width="10.78" height="5.93" fill="#500000"/>
<rect x="544.48" y="93.08" width="10.78" height="5.93" fill="#500000"/>
<rect x="554.97" y="93.08" width="10.78" height="5.93" fill="#f00000"/>
<rect x="565.45" y="93.08" width="10.78" height="5.93" fill="#009500"/>
<rect x="575.93" y="93.08" width="10.78" height="5.93" fill="#002c00"/>
<rect x="586.42" y="93.08" width="10.78" height="5.93" fill="#00e400"/>
<rect x="534.00" y="98.71" width="10.78" height="5.93" fill="#200000"/>
<rect x="544.48" y="98.71" width="10.78" height="5.93" fill="#900000"/>
<rect x="554.97" y="98.71" width="10.78" height="5.93" fill="#f00000"/>
<rect x="565.45" y="98.71" width="10.78" height="5.93" fill="#009500"/>
<rect x="575.93" y="98.71" width="10.78" height="5.93" fill="#006900"/>
<rect x="586.42" y="98.71" width="10.78" height="5.93" fill="#009e00"/>
<rect x="534.00" y="104.34" width="10.78" height="5.93" fill="#300000"/>
<rect x="544.48" y="104.34" width="10.78" height="5.93" fill="#800000"/>
<rect x="554.97" y="104.34" width="10.78" height="5.93" fill="#ff0000"/>
<rect x="565.45" y="104.34" width="10.78" height="5.93" fill="#009500"/>
<rect x="575.93" y="104.34" width="10.78" height="5.93" fill="#006900"/>
<rect x="586.42" y="104.34" width="10.78" height="5.93" fill="#009e00"/>
<rect x="534.00" y="109.97" width="10.78" height="5.93" fill="#002300"/>
<rect x="544.48" y="109.97" width="10.78" height="5.93" fill="#b00000"/>
<rect x="554.97" y="109.97" width="10.78" height="5.93" fill="#e00000"/>
<rect x="565.45" y="109.97" width="10.78" height="5.93" fill="#009500"/>
<rect x="575.93" y="109.97" width="10.78" height="5.93" fill="#004600"/>
<rect x="586.42" y="109.97" width="10.78" height="5.93" fill="#009e00"/>
<rect x="534.00" y="115.60" width="10.78" height="5.93" fill="#001a00"/>
<rect x="544.48" y="115.60" width="10.78" height="5.93" fill="#b00000"/>
<rect x="554.97" y="115.60" width="10.78" height="5.93" fill="#e00000"/>
<rect x="565.45" y="115.60" width="10.78" height="5.93" fill="#008c00"/>
<rect x="575.93" y="115.60" width="10.78" height="5.93" fill="#006900"/>
<rect x="586.42" y="115.60" width="10.78" height="5.93" fill="#009e00"/>
<rect x="534.00" y="121.23" width="10.78" height="5.93" fill="#001100"/>
<rect x="544.48" y="121.23" width="10.78" height="5.93" fill="#a00000"/>
<rect x="554.97" y="121.23" width="10.78" height="5.93" fill="#f00000"/>
<rect x="565.45" y="121.23" width="10.78" height="5.93" fill="#008c00"/>
<rect x="575.93" y="121.23" width="10.78" height="5.93" fill="#006900"/>
<rect x="586.42" y="121.23" width="10.78" height="5.93" fill="#009e00"/>
<rect x="534.00" y="126.86" width="10.78" height="5.93" fill="#009e00"/>
<rect x="544.48" y="126.86" width="10.78" height="5.93" fill="#00e400"/>
<rect x="554.97" y="126.86" width="10.78" height="5.93" fill="#000000"/>
<rect x="565.45" y="126.86" width="10.78" height="5.93" fill="#900000"/>
<rect x="575.93" y="126.86" width="10.78" height="5.93" fill="#a00000"/>
<rect x="586.42" y="126.86" width="10.78" height="5.93" fill="#500000"/>
<rect x="534.00" y="132.49" width="10.78" height="5.93" fill="#009e00"/>
<rect x="544.48" y="132.49" width="10.78" height="5.93" fill="#009e00"/>
<rect x="554.97" y="132.49" width="10.78" height="5.93" fill="#000000"/>
<rect x="565.45" y="132.49" width="10.78" height="5.93" fill="#500000"/>
<rect x="575.93" y="132.49" width="10.78" height="5.93" fill="#ff0000"/>
<rect x="586.42" y="132.49" width="10.78" height="5.93" fill="#300000"/>
<rect x="534.00" y="138.12" width="10.78" height="5.93" fill="#007b00"/>
<rect x="544.48" y="138.12" width="10.78" height="5.93" fill="#004f00"/>
<rect x="554.97" y="138.12" width="10.78" height="5.93" fill="#00b000"/>
<rect x="565.45" y="138.12" width="10.78" height="5.93" fill="#300000"/>
<rect x="575.93" y="138.12" width="10.78" height="5.93" fill="#ff0000"/>
<rect x="586.42" y="138.12" width="10.78" height="5.93" fill="#300000"/>
<rect x="534.00" y="143.75" width="10.78" height="5.93" fill="#00a700"/>
<rect x="544.48" y="143.75" width="10.78" height="5.93" fill="#007b00"/>
<rect x="554.97" y="143.75" width="10.78" height="5.93" fill="#006900"/>
<rect x="565.45" y="143.75" width="10.78" height="5.93" fill="#300000"/>
<rect x="575.93" y="143.75" width="10.78" height="5.93" fill="#ff0000"/>
<rect x="586.42" y="143.75" width="10.78" height="5.93" fill="#500000"/>
<rect x="534.00" y="149.38" width="10.78" height="5.93" fill="#009e00"/>
<rect x="544.48" y="149.38" width="10.78" height="5.93" fill="#009e00"/>
<rect x="554.97" y="149.38" width="10.78" height="5.93" fill="#007b00"/>
<rect x="565.45" y="149.38" width="10.78" height="5.93" fill="#700000"/>
<rect x="575.93" y="149.38" width="10.78" height="5.93" fill="#f00000"/>
<rect x="586.42" y="149.38" width="10.78" height="5.93" fill="#500000"/>
<rect x="534.00" y="155.01" width="10.78" height="5.93" fill="#009e00"/>
<rect x="544.48" y="155.01" width="10.78" height="5.93" fill="#007200"/>
<rect x="554.97" y="155.01" width="10.78" height="5.93" fill="#008c00"/>
<rect x="565.45" y="155.01" width="10.78" height="5.93" fill="#500000"/>
<rect x="575.93" y="155.01" width="10.78" height="5.93" fill="#ff0000"/>
<rect x="586.42" y="155.01" width="10.78" height="5.93" fill="#500000"/>
<rect x="534.00" y="160.64" width="10.78" height="5.93" fill="#009e00"/>
<rect x="544.48" y="160.64" width="10.78" height="5.93" fill="#008400"/>
<rect x="554.97" y="160.64" width="10.78" height="5.93" fill="#008c00"/>
<rect x="565.45" y="160.64" width="10.78" height="5.93" fill="#500000"/>
<rect x="575.93" y="160.64" width="10.78" height="5.93" fill="#ff0000"/>
<rect x="586.42" y="160.64" width="10.78" height="5.93" fill="#400000"/>
<rect x="534.00" y="166.27" width="10.78" height="5.93" fill="#009e00"/>
<rect x="544.48" y="166.27" width="10.78" height="5.93" fill="#009500"/>
<rect x="554.97" y="166.27" width="10.78" height="5.93" fill="#009500"/>
<rect x="565.45" y="166.27" width="10.78" height="5.93" fill="#900000"/>
<rect x="575.93" y="166.27" width="10.78" height="5.93" fill="#c00000"/>
<rect x="586.42" y="166.27" width="10.78" height="5.93" fill="#500000"/>
<rect x="534.00" y="171.90" width="10.78" height="5.93" fill="#009e00"/>
<rect x="544.48" y="171.90" width="10.78" height="5.93" fill="#009500"/>
<rect x="554.97" y="171.90" width="10.78" height="5.93" fill="#009500"/>
<rect x="565.45" y="171.90" width="10.78" height="5.93" fill="#900000"/>
<rect x="575.93" y="171.90" width="10.78" height="5.93" fill="#c00000"/>
<rect x="586.42" y="171.90" width="10.78" height="5.93" fill="#500000"/>
<rect x="534.00" y="177.53" width="10.78" height="5.93" fill="#009e00"/>
<rect x="544.48" y="177.53" width="10.78" height="5.93" fill="#006000"/>
<rect x="554.97" y="177.53" width="10.78" height="5.93" fill="#009e00"/>
<rect x="565.45" y="177.53" width="10.78" height="5.93" fill="#800000"/>
<rect x="575.93" y="177.53" width="10.78" height="5.93" fill="#d00000"/>
<rect x="586.42" y="177.53" width="10.78" height="5.93" fill="#400000"/>
<rect x="534.00" y="183.16" width="10.78" height="5.93" fill="#009e00"/>
<rect x="544.48" y="183.16" width="10.78" height="5.93" fill="#007b00"/>
<rect x="554.97" y="183.16" width="10.78" height="5.93" fill="#009e00"/>
<rect x="565.45" y="183.16" width="10.78" height="5.93" fill="#800000"/>
<rect x="575.93" y="183.16" width="10.78" height="5.93" fill="#e00000"/>
<rect x="586.42" y="183.16" width="10.78" height="5.93" fill="#400000"/>
<rect x="534.00" y="188.79" width="10.78" height="5.93" fill="#00e400"/>
<rect x="544.48" y="188.79" width="10.78" height="5.93" fill="#004f00"/>
<rect x="554.97" y="188.79" width="10.78" height="5.93" fill="#005800"/>
<rect x="565.45" y="188.79" width="10.78" height="5.93" fill="#900000"/>
<rect x="575.93" y="188.79" width="10.78" height="5.93" fill="#c00000"/>
<rect x="586.42" y="188.79" width="10.78" height="5.93" fill="#400000"/>
<rect x="534.00" y="194.42" width="10.78" height="5.93" fill="#009500"/>
<rect x="544.48" y="194.42" width="10.78" height="5.93" fill="#006900"/>
<rect x="554.97" y="194.42" width="10.78" height="5.93" fill="#006900"/>
<rect x="565.45" y="194.42" width="10.78" height="5.93" fill="#800000"/>
<rect x="575.93" y="194.42" width="10.78" height="5.93" fill="#ff0000"/>
<rect x="586.42" y="194.42" width="10.78" height="5.93" fill="#100000"/>
<rect x="534.00" y="200.05" width="10.78" height="5.93" fill="#009e00"/>
<rect x="544.48" y="200.05" width="10.78" height="5.93" fill="#002300"/>
<rect x="554.97" y="200.05" width="10.78" height="5.93" fill="#009500"/>
<rect x="565.45" y="200.05" width="10.78" height="5.93" fill="#700000"/>
<rect x="575.93" y="200.05" width="10.78" height="5.93" fill="#ff0000"/>
<rect x="586.42" y="200.05" width="10.78" height="5.93" fill="#100000"/>
<rect x="534.00" y="205.68" width="10.78" height="5.93" fill="#100000"/>
<rect x="544.48" y="205.68" width="10.78" height="5.93" fill="#009e00"/>
<rect x="554.97" y="205.68" width="10.78" height="5.93" fill="#00d300"/>
<rect x="565.45" y="205.68" width="10.78" height="5.93" fill="#b00000"/>
<rect x="575.93" y="205.68" width="10.78" height="5.93" fill="#b00000"/>
<rect x="586.42" y="205.68" width="10.78" height="5.93" fill="#200000"/>
<rect x="534.00" y="211.31" width="10.78" height="5.93" fill="#004600"/>
<rect x="544.48" y="211.31" width="10.78" height="5.93" fill="#00c100"/>
<rect x="554.97" y="211.31" width="10.78" height="5.93" fill="#008400"/>
<rect x="565.45" y="211.31" width="10.78" height="5.93" fill="#800000"/>
<rect x="575.93" y="211.31" width="10.78" height="5.93" fill="#c00000"/>
<rect x="586.42" y="211.31" width="10.78" height="5.93" fill="#400000"/>
<rect x="534.00" y="216.94" width="10.78" height="5.93" fill="#002300"/>
<rect x="544.48" y="216.94" width="10.78" height="5.93" fill="#00c100"/>
<rect x="554.97" y="216.94" width="10.78" height="5.93" fill="#009e00"/>
<rect x="565.45" y="216.94" width="10.78" height="5.93" fill="#800000"/>
<rect x="575.93" y="216.94" width="10.78" height="5.93" fill="#d00000"/>
<rect x="586.42" y="216.94" width="10.78" height="5.93" fill="#400000"/>
<rect x="534.00" y="222.57" width="10.78" height="5.93" fill="#007b00"/>
<rect x="544.48" y="222.57" width="10.78" height="5.93" fill="#00a700"/>
<rect x="554.97" y="222.57" width="10.78" height="5.93" fill="#009e00"/>
<rect x="565.45" y="222.57" width="10.78" height="5.93" fill="#900000"/>
<rect x="575.93" y="222.57" width="10.78" height="5.93" fill="#c00000"/>
<rect x="586.42" y="222.57" width="10.78" height="5.93" fill="#400000"/>
<rect x="534.00" y="228.20" width="10.78" height="5.93" fill="#004600"/>
<rect x="544.48" y="228.20" width="10.78" height="5.93" fill="#009e00"/>
<rect x="554.97" y="228.20" width="10.78" height="5.93" fill="#00a700"/>
<rect x="565.45" y="228.20" width="10.78" height="5.93" fill="#b00000"/>
<rect x="575.93" y="228.20" width="10.78" height="5.93" fill="#800000"/>
<rect x="586.42" y="228.20" width="10.78" height="5.93" fill="#400000"/>
<rect x="534.00" y="233.83" width="10.78" height="5.93" fill="#004600"/>
<rect x="544.48" y="233.83" width="10.78" height="5.93" fill="#009e00"/>
<rect x="554.97" y="233.83" width="10.78" height="5.93" fill="#00b800"/>
<rect x="565.45" y="233.83" width="10.78" height="5.93" fill="#e00000"/>
<rect x="575.93" y="233.83" width="10.78" height="5.93" fill="#500000"/>
<rect x="586.42" y="233.83" width="10.78" height="5.93" fill="#500000"/>
<rect x="534.00" y="239.46" width="10.78" height="5.93" fill="#005800"/>
<rect x="544.48" y="239.46" width="10.78" height="5.93" fill="#008400"/>
<rect x="554.97" y="239.46" width="10.78" height="5.93" fill="#00b000"/>
<rect x="565.45" y="239.46" width="10.78" height="5.93" fill="#ff0000"/>
<rect x="575.93" y="239.46" width="10.78" height="5.93" fill="#300000"/>
<rect x="586.42" y="239.46" width="10.78" height="5.93" fill="#500000"/>
<rect x="534.00" y="245.09" width="10.78" height="5.93" fill="#009e00"/>
<rect x="544.48" y="245.09" width="10.78" height="5.93" fill="#009e00"/>
<rect x="554.97" y="245.09" width="10.78" height="5.93" fill="#007b00"/>
<rect x="565.45" y="245.09" width="10.78" height="5.93" fill="#d00000"/>
<rect x="575.93" y="245.09" width="10.78" height="5.93" fill="#700000"/>
<rect x="586.42" y="245.09" width="10.78" height="5.93" fill="#500000"/>
<rect x="534.00" y="250.72" width="10.78" height="5.93" fill="#009500"/>
<rect x="544.48" y="250.72" width="10.78" height="5.93" fill="#009500"/>
<rect x="554.97" y="250.72" width="10.78" height="5.93" fill="#007b00"/>
<rect x="565.45" y="250.72" width="10.78" height="5.93" fill="#d00000"/>
<rect x="575.93" y="250.72" width="10.78" height="5.93" fill="#900000"/>
<rect x="586.42" y="250.72" width="10.78" height="5.93" fill="#500000"/>
<rect x="534.00" y="256.35" width="10.78" height="5.93" fill="#009e00"/>
<rect x="544.48" y="256.35" width="10.78" height="5.93" fill="#008400"/>
<rect x="554.97" y="256.35" width="10.78" height="5.93" fill="#008400"/>
<rect x="565.45" y="256.35" width="10.78" height="5.93" fill="#c00000"/>
<rect x="575.93" y="256.35" width="10.78" height="5.93" fill="#900000"/>
<rect x="586.42" y="256.35" width="10.78" height="5.93" fill="#500000"/>
<rect x="534.00" y="261.98" width="10.78" height="5.93" fill="#009500"/>
<rect x="544.48" y="261.98" width="10.78" height="5.93" fill="#006000"/>
<rect x="554.97" y="261.98" width="10.78" height="5.93" fill="#008c00"/>
<rect x="565.45" y="261.98" width="10.78" height="5.93" fill="#ff0000"/>
<rect x="575.93" y="261.98" width="10.78" height="5.93" fill="#200000"/>
<rect x="586.42" y="261.98" width="10.78" height="5.93" fill="#500000"/>
<rect x="534.00" y="267.61" width="10.78" height="5.93" fill="#00c100"/>
<rect x="544.48" y="267.61" width="10.78" height="5.93" fill="#008c00"/>
<rect x="554.97" y="267.61" width="10.78" height="5.93" fill="#003d00"/>
<rect x="565.45" y="267.61" width="10.78" height="5.93" fill="#f00000"/>
<rect x="575.93" y="267.61" width="10.78" height="5.93" fill="#800000"/>
<rect x="586.42" y="267.61" width="10.78" height="5.93" fill="#100000"/>
<rect x="534.00" y="273.24" width="10.78" height="5.93" fill="#008c00"/>
<rect x="544.48" y="273.24" width="10.78" height="5.93" fill="#008c00"/>
<rect x="554.97" y="273.24" width="10.78" height="5.93" fill="#006000"/>
<rect x="565.45" y="273.24" width="10.78" height="5.93" fill="#ff0000"/>
<rect x="575.93" y="273.24" width="10.78" height="5.93" fill="#700000"/>
<rect x="586.42" y="273.24" width="10.78" height="5.93" fill="#100000"/>
<rect x="534.00" y="278.87" width="10.78" height="5.93" fill="#009e00"/>
<rect x="544.48" y="278.87" width="10.78" height="5.93" fill="#006900"/>
<rect x="554.97" y="278.87" width="10.78" height="5.93" fill="#004f00"/>
<rect x="565.45" y="278.87" width="10.78" height="5.93" fill="#ff0000"/>
<rect x="575.93" y="278.87" width="10.78" height="5.93" fill="#600000"/>
<rect x="586.42" y="278.87" width="10.78" height="5.93" fill="#100000"/>
</g>
<text x="0" y="0" font-size="7.2" fill="#000" style="stroke-width:0.06px" transform="translate(598.9 9.02) scale(1 1.06)">Hypoxanthine</text>
<text x="0" y="0" font-size="7.2" fill="#000" style="stroke-width:0.06px" transform="translate(598.9 14.64) scale(1 1.06)">Dodecanol</text>
<text x="0" y="0" font-size="7.2" fill="#000" style="stroke-width:0.06px" transform="translate(598.9 20.27) scale(1 1.06)">Glutamate</text>
<text x="0" y="0" font-size="7.2" fill="#000" style="stroke-width:0.06px" transform="translate(598.9 25.90) scale(1 1.06)">4-Aminobutyric Acid</text>
<text x="0" y="0" font-size="7.2" fill="#000" style="stroke-width:0.06px" transform="translate(598.9 31.54) scale(1 1.06)">Glucoheptulose</text>
<text x="0" y="0" font-size="7.2" fill="#000" style="stroke-width:0.06px" transform="translate(598.9 37.17) scale(1 1.06)">Glucose-1,2,3,4,5,6,6 Deuterated</text>
<text x="0" y="0" font-size="7.2" fill="#000" style="stroke-width:0.06px" transform="translate(598.9 42.80) scale(1 1.06)">Threonine</text>
<text x="0" y="0" font-size="7.2" fill="#000" style="stroke-width:0.06px" transform="translate(598.9 48.43) scale(1 1.06)">Maltitol</text>
<text x="0" y="0" font-size="7.2" fill="#000" style="stroke-width:0.06px" transform="translate(598.9 54.05) scale(1 1.06)">Uridine 5’-Monophosphate</text>
<text x="0" y="0" font-size="7.2" fill="#000" style="stroke-width:0.06px" transform="translate(598.9 59.69) scale(1 1.06)">Gluconic Acid</text>
<text x="0" y="0" font-size="7.2" fill="#000" style="stroke-width:0.06px" transform="translate(598.9 65.31) scale(1 1.06)">Butyrolactam</text>
<text x="0" y="0" font-size="7.2" fill="#000" style="stroke-width:0.06px" transform="translate(598.9 70.95) scale(1 1.06)">Glycerol</text>
<text x="0" y="0" font-size="7.2" fill="#000" style="stroke-width:0.06px" transform="translate(598.9 76.58) scale(1 1.06)">Phytol</text>
<text x="0" y="0" font-size="7.2" fill="#000" style="stroke-width:0.06px" transform="translate(598.9 82.20) scale(1 1.06)">Erythrose Major</text>
<text x="0" y="0" font-size="7.2" fill="#000" style="stroke-width:0.06px" transform="translate(598.9 87.84) scale(1 1.06)">Pentadecanoic Acid</text>
<text x="0" y="0" font-size="7.2" fill="#000" style="stroke-width:0.06px" transform="translate(598.9 93.47) scale(1 1.06)">N-Acetylputrescine</text>
<text x="0" y="0" font-size="7.2" fill="#000" style="stroke-width:0.06px" transform="translate(598.9 99.09) scale(1 1.06)">Hexadecylglycerol</text>
<text x="0" y="0" font-size="7.2" fill="#000" style="stroke-width:0.06px" transform="translate(598.9 104.72) scale(1 1.06)">Putrescine</text>
<text x="0" y="0" font-size="7.2" fill="#000" style="stroke-width:0.06px" transform="translate(598.9 110.36) scale(1 1.06)">Glucose-1-Phosphate</text>
<text x="0" y="0" font-size="7.2" fill="#000" style="stroke-width:0.06px" transform="translate(598.9 115.98) scale(1 1.06)">Galactose-6-Phosphate</text>
<text x="0" y="0" font-size="7.2" fill="#000" style="stroke-width:0.06px" transform="translate(598.9 121.61) scale(1 1.06)">Capric Acid</text>
<text x="0" y="0" font-size="7.2" fill="#000" style="stroke-width:0.06px" transform="translate(598.9 127.25) scale(1 1.06)">Glucosamine</text>
<text x="0" y="0" font-size="7.2" fill="#000" style="stroke-width:0.06px" transform="translate(598.9 132.88) scale(1 1.06)">Lysopalmitoyl Monogalactosylglycerol</text>
<text x="0" y="0" font-size="7.2" fill="#000" style="stroke-width:0.06px" transform="translate(598.9 138.50) scale(1 1.06)">Biphenyl</text>
<text x="0" y="0" font-size="7.2" fill="#000" style="stroke-width:0.06px" transform="translate(598.9 144.13) scale(1 1.06)">Alanine</text>
<text x="0" y="0" font-size="7.2" fill="#000" style="stroke-width:0.06px" transform="translate(598.9 149.76) scale(1 1.06)">Glutamic Acid</text>
<text x="0" y="0" font-size="7.2" fill="#000" style="stroke-width:0.06px" transform="translate(598.9 155.39) scale(1 1.06)">Hexitol</text>
<text x="0" y="0" font-size="7.2" fill="#000" style="stroke-width:0.06px" transform="translate(598.9 161.02) scale(1 1.06)">Lysine</text>
<text x="0" y="0" font-size="7.2" fill="#000" style="stroke-width:0.06px" transform="translate(598.9 166.65) scale(1 1.06)">Erythronic Acid Lactone</text>
<text x="0" y="0" font-size="7.2" fill="#000" style="stroke-width:0.06px" transform="translate(598.9 172.28) scale(1 1.06)">2-Ketoisocaproic Acid</text>
<text x="0" y="0" font-size="7.2" fill="#000" style="stroke-width:0.06px" transform="translate(598.9 177.91) scale(1 1.06)">Cholesterol</text>
<text x="0" y="0" font-size="7.2" fill="#000" style="stroke-width:0.06px" transform="translate(598.9 183.54) scale(1 1.06)">Stigmasterol</text>
<text x="0" y="0" font-size="7.2" fill="#000" style="stroke-width:0.06px" transform="translate(598.9 189.17) scale(1 1.06)">Isochlorogenic Acid</text>
<text x="0" y="0" font-size="7.2" fill="#000" style="stroke-width:0.06px" transform="translate(598.9 194.80) scale(1 1.06)">Udp-N-Acetylglucosamine</text>
<text x="0" y="0" font-size="7.2" fill="#000" style="stroke-width:0.06px" transform="translate(598.9 200.43) scale(1 1.06)">3-Epicholic Acid</text>
<text x="0" y="0" font-size="7.2" fill="#000" style="stroke-width:0.06px" transform="translate(598.9 206.06) scale(1 1.06)">2-Deoxyerythritol</text>
<text x="0" y="0" font-size="7.2" fill="#000" style="stroke-width:0.06px" transform="translate(598.9 211.69) scale(1 1.06)">Uridine</text>
<text x="0" y="0" font-size="7.2" fill="#000" style="stroke-width:0.06px" transform="translate(598.9 217.32) scale(1 1.06)">Methanolphosphate</text>
<text x="0" y="0" font-size="7.2" fill="#000" style="stroke-width:0.06px" transform="translate(598.9 222.95) scale(1 1.06)">Fructose-6-Phosphate</text>
<text x="0" y="0" font-size="7.2" fill="#000" style="stroke-width:0.06px" transform="translate(598.9 228.58) scale(1 1.06)">Alpha-Ketoglutarate</text>
<text x="0" y="0" font-size="7.2" fill="#000" style="stroke-width:0.06px" transform="translate(598.9 234.21) scale(1 1.06)">3-Hydroxy-3-(4’-Hydroxy-3’-Methoxyphenyl)Propionic Acid</text>
<text x="0" y="0" font-size="7.2" fill="#000" style="stroke-width:0.06px" transform="translate(598.9 239.84) scale(1 1.06)">Ribose-5-Phosphate</text>
<text x="0" y="0" font-size="7.2" fill="#000" style="stroke-width:0.06px" transform="translate(598.9 245.47) scale(1 1.06)">1-Monoheptadecanoyl Glyceride</text>
<text x="0" y="0" font-size="7.2" fill="#000" style="stroke-width:0.06px" transform="translate(598.9 251.10) scale(1 1.06)">Guanosine</text>
<text x="0" y="0" font-size="7.2" fill="#000" style="stroke-width:0.06px" transform="translate(598.9 256.74) scale(1 1.06)">Piceatannol</text>
<text x="0" y="0" font-size="7.2" fill="#000" style="stroke-width:0.06px" transform="translate(598.9 262.37) scale(1 1.06)">3-Hydroxypropionic Acid</text>
<text x="0" y="0" font-size="7.2" fill="#000" style="stroke-width:0.06px" transform="translate(598.9 268.00) scale(1 1.06)">2-Hydroxyglutaric Acid</text>
<text x="0" y="0" font-size="7.2" fill="#000" style="stroke-width:0.06px" transform="translate(598.9 273.62) scale(1 1.06)">Ricinoleic Acid</text>
<text x="0" y="0" font-size="7.2" fill="#000" style="stroke-width:0.06px" transform="translate(598.9 279.25) scale(1 1.06)">Epicatechin</text>
<text x="0" y="0" font-size="7.2" fill="#000" style="stroke-width:0.06px" transform="translate(598.9 284.88) scale(1 1.06)">Allantoic Acid</text>
<text x="0" y="0" font-size="7" fill="#000" transform="translate(536.84 286.0) rotate(90)">Gb_GL1</text>
<text x="0" y="0" font-size="7" fill="#000" transform="translate(547.33 286.0) rotate(90)">Gb_GL2</text>
<text x="0" y="0" font-size="7" fill="#000" transform="translate(557.81 286.0) rotate(90)">Gb_GL3</text>
<text x="0" y="0" font-size="7" fill="#000" transform="translate(568.29 286.0) rotate(90)">Gb_YL1</text>
<text x="0" y="0" font-size="7" fill="#000" transform="translate(578.77 286.0) rotate(90)">Gb_YL2</text>
<text x="0" y="0" font-size="7" fill="#000" transform="translate(589.26 286.0) rotate(90)">Gb_YL3</text>
<line x1="532.20" y1="11.45" x2="534.00" y2="11.45" stroke="#7a7a7a" stroke-width="0.7" />
<line x1="532.20" y1="17.07" x2="534.00" y2="17.07" stroke="#7a7a7a" stroke-width="0.7" />
<line x1="532.20" y1="11.45" x2="532.20" y2="17.07" stroke="#7a7a7a" stroke-width="0.7" />
<line x1="530.30" y1="5.81" x2="534.00" y2="5.81" stroke="#7a7a7a" stroke-width="0.7" />
<line x1="530.30" y1="14.26" x2="532.20" y2="14.26" stroke="#7a7a7a" stroke-width="0.7" />
<line x1="530.30" y1="5.81" x2="530.30" y2="14.26" stroke="#7a7a7a" stroke-width="0.7" />
<line x1="532.20" y1="22.70" x2="534.00" y2="22.70" stroke="#7a7a7a" stroke-width="0.7" />
<line x1="532.20" y1="28.34" x2="534.00" y2="28.34" stroke="#7a7a7a" stroke-width="0.7" />
<line x1="532.20" y1="22.70" x2="532.20" y2="28.34" stroke="#7a7a7a" stroke-width="0.7" />
<line x1="532.20" y1="33.97" x2="534.00" y2="33.97" stroke="#7a7a7a" stroke-width="0.7" />
<line x1="532.20" y1="39.59" x2="534.00" y2="39.59" stroke="#7a7a7a" stroke-width="0.7" />
<line x1="532.20" y1="33.97" x2="532.20" y2="39.59" stroke="#7a7a7a" stroke-width="0.7" />
<line x1="530.30" y1="25.52" x2="532.20" y2="25.52" stroke="#7a7a7a" stroke-width="0.7" />
<line x1="530.30" y1="36.78" x2="532.20" y2="36.78" stroke="#7a7a7a" stroke-width="0.7" />
<line x1="530.30" y1="25.52" x2="530.30" y2="36.78" stroke="#7a7a7a" stroke-width="0.7" />
<line x1="527.00" y1="10.04" x2="530.30" y2="10.04" stroke="#7a7a7a" stroke-width="0.7" />
<line x1="527.00" y1="31.15" x2="530.30" y2="31.15" stroke="#7a7a7a" stroke-width="0.7" />
<line x1="527.00" y1="10.04" x2="527.00" y2="31.15" stroke="#7a7a7a" stroke-width="0.7" />
<line x1="529.50" y1="45.23" x2="534.00" y2="45.23" stroke="#7a7a7a" stroke-width="0.7" />
<line x1="529.50" y1="50.85" x2="534.00" y2="50.85" stroke="#7a7a7a" stroke-width="0.7" />
<line x1="529.50" y1="45.23" x2="529.50" y2="50.85" stroke="#7a7a7a" stroke-width="0.7" />
<line x1="532.00" y1="62.12" x2="534.00" y2="62.12" stroke="#7a7a7a" stroke-width="0.7" />
<line x1="532.00" y1="67.75" x2="534.00" y2="67.75" stroke="#7a7a7a" stroke-width="0.7" />
<line x1="532.00" y1="62.12" x2="532.00" y2="67.75" stroke="#7a7a7a" stroke-width="0.7" />
<line x1="529.50" y1="56.48" x2="534.00" y2="56.48" stroke="#7a7a7a" stroke-width="0.7" />
<line x1="529.50" y1="64.93" x2="532.00" y2="64.93" stroke="#7a7a7a" stroke-width="0.7" />
<line x1="529.50" y1="56.48" x2="529.50" y2="64.93" stroke="#7a7a7a" stroke-width="0.7" />
<line x1="526.40" y1="48.04" x2="529.50" y2="48.04" stroke="#7a7a7a" stroke-width="0.7" />
<line x1="526.40" y1="60.71" x2="529.50" y2="60.71" stroke="#7a7a7a" stroke-width="0.7" />
<line x1="526.40" y1="48.04" x2="526.40" y2="60.71" stroke="#7a7a7a" stroke-width="0.7" />
<line x1="523.90" y1="20.59" x2="527.00" y2="20.59" stroke="#7a7a7a" stroke-width="0.7" />
<line x1="523.90" y1="54.37" x2="526.40" y2="54.37" stroke="#7a7a7a" stroke-width="0.7" />
<line x1="523.90" y1="20.59" x2="523.90" y2="54.37" stroke="#7a7a7a" stroke-width="0.7" />
<line x1="531.50" y1="79.00" x2="534.00" y2="79.00" stroke="#7a7a7a" stroke-width="0.7" />
<line x1="531.50" y1="84.64" x2="534.00" y2="84.64" stroke="#7a7a7a" stroke-width="0.7" />
<line x1="531.50" y1="79.00" x2="531.50" y2="84.64" stroke="#7a7a7a" stroke-width="0.7" />
<line x1="531.50" y1="90.27" x2="534.00" y2="90.27" stroke="#7a7a7a" stroke-width="0.7" />
<line x1="531.50" y1="95.89" x2="534.00" y2="95.89" stroke="#7a7a7a" stroke-width="0.7" />
<line x1="531.50" y1="90.27" x2="531.50" y2="95.89" stroke="#7a7a7a" stroke-width="0.7" />
<line x1="528.50" y1="81.82" x2="531.50" y2="81.82" stroke="#7a7a7a" stroke-width="0.7" />
<line x1="528.50" y1="93.08" x2="531.50" y2="93.08" stroke="#7a7a7a" stroke-width="0.7" />
<line x1="528.50" y1="81.82" x2="528.50" y2="93.08" stroke="#7a7a7a" stroke-width="0.7" />
<line x1="531.50" y1="101.52" x2="534.00" y2="101.52" stroke="#7a7a7a" stroke-width="0.7" />
<line x1="531.50" y1="107.16" x2="534.00" y2="107.16" stroke="#7a7a7a" stroke-width="0.7" />
<line x1="531.50" y1="101.52" x2="531.50" y2="107.16" stroke="#7a7a7a" stroke-width="0.7" />
<line x1="532.60" y1="118.41" x2="534.00" y2="118.41" stroke="#7a7a7a" stroke-width="0.7" />
<line x1="532.60" y1="124.05" x2="534.00" y2="124.05" stroke="#7a7a7a" stroke-width="0.7" />
<line x1="532.60" y1="118.41" x2="532.60" y2="124.05" stroke="#7a7a7a" stroke-width="0.7" />
<line x1="531.50" y1="112.78" x2="534.00" y2="112.78" stroke="#7a7a7a" stroke-width="0.7" />
<line x1="531.50" y1="121.23" x2="532.60" y2="121.23" stroke="#7a7a7a" stroke-width="0.7" />
<line x1="531.50" y1="112.78" x2="531.50" y2="121.23" stroke="#7a7a7a" stroke-width="0.7" />
<line x1="528.50" y1="104.34" x2="531.50" y2="104.34" stroke="#7a7a7a" stroke-width="0.7" />
<line x1="528.50" y1="117.01" x2="531.50" y2="117.01" stroke="#7a7a7a" stroke-width="0.7" />
<line x1="528.50" y1="104.34" x2="528.50" y2="117.01" stroke="#7a7a7a" stroke-width="0.7" />
<line x1="526.30" y1="87.45" x2="528.50" y2="87.45" stroke="#7a7a7a" stroke-width="0.7" />
<line x1="526.30" y1="110.67" x2="528.50" y2="110.67" stroke="#7a7a7a" stroke-width="0.7" />
<line x1="526.30" y1="87.45" x2="526.30" y2="110.67" stroke="#7a7a7a" stroke-width="0.7" />
<line x1="523.70" y1="73.38" x2="534.00" y2="73.38" stroke="#7a7a7a" stroke-width="0.7" />
<line x1="523.70" y1="99.06" x2="526.30" y2="99.06" stroke="#7a7a7a" stroke-width="0.7" />
<line x1="523.70" y1="73.38" x2="523.70" y2="99.06" stroke="#7a7a7a" stroke-width="0.7" />
<line x1="519.60" y1="37.48" x2="523.90" y2="37.48" stroke="#7a7a7a" stroke-width="0.7" />
<line x1="519.60" y1="86.22" x2="523.70" y2="86.22" stroke="#7a7a7a" stroke-width="0.7" />
<line x1="519.60" y1="37.48" x2="519.60" y2="86.22" stroke="#7a7a7a" stroke-width="0.7" />
<line x1="529.30" y1="129.68" x2="534.00" y2="129.68" stroke="#7a7a7a" stroke-width="0.7" />
<line x1="529.30" y1="135.31" x2="534.00" y2="135.31" stroke="#7a7a7a" stroke-width="0.7" />
<line x1="529.30" y1="129.68" x2="529.30" y2="135.31" stroke="#7a7a7a" stroke-width="0.7" />
<line x1="532.50" y1="146.56" x2="534.00" y2="146.56" stroke="#7a7a7a" stroke-width="0.7" />
<line x1="532.50" y1="152.19" x2="534.00" y2="152.19" stroke="#7a7a7a" stroke-width="0.7" />
<line x1="532.50" y1="146.56" x2="532.50" y2="152.19" stroke="#7a7a7a" stroke-width="0.7" />
<line x1="531.00" y1="140.94" x2="534.00" y2="140.94" stroke="#7a7a7a" stroke-width="0.7" />
<line x1="531.00" y1="149.38" x2="532.50" y2="149.38" stroke="#7a7a7a" stroke-width="0.7" />
<line x1="531.00" y1="140.94" x2="531.00" y2="149.38" stroke="#7a7a7a" stroke-width="0.7" />
<line x1="532.50" y1="163.45" x2="534.00" y2="163.45" stroke="#7a7a7a" stroke-width="0.7" />
<line x1="532.50" y1="169.09" x2="534.00" y2="169.09" stroke="#7a7a7a" stroke-width="0.7" />
<line x1="532.50" y1="163.45" x2="532.50" y2="169.09" stroke="#7a7a7a" stroke-width="0.7" />
<line x1="531.00" y1="157.82" x2="534.00" y2="157.82" stroke="#7a7a7a" stroke-width="0.7" />
<line x1="531.00" y1="166.27" x2="532.50" y2="166.27" stroke="#7a7a7a" stroke-width="0.7" />
<line x1="531.00" y1="157.82" x2="531.00" y2="166.27" stroke="#7a7a7a" stroke-width="0.7" />
<line x1="528.70" y1="145.16" x2="531.00" y2="145.16" stroke="#7a7a7a" stroke-width="0.7" />
<line x1="528.70" y1="162.05" x2="531.00" y2="162.05" stroke="#7a7a7a" stroke-width="0.7" />
<line x1="528.70" y1="145.16" x2="528.70" y2="162.05" stroke="#7a7a7a" stroke-width="0.7" />
<line x1="532.50" y1="180.34" x2="534.00" y2="180.34" stroke="#7a7a7a" stroke-width="0.7" />
<line x1="532.50" y1="185.97" x2="534.00" y2="185.97" stroke="#7a7a7a" stroke-width="0.7" />
<line x1="532.50" y1="180.34" x2="532.50" y2="185.97" stroke="#7a7a7a" stroke-width="0.7" />
<line x1="531.00" y1="174.72" x2="534.00" y2="174.72" stroke="#7a7a7a" stroke-width="0.7" />
<line x1="531.00" y1="183.16" x2="532.50" y2="183.16" stroke="#7a7a7a" stroke-width="0.7" />
<line x1="531.00" y1="174.72" x2="531.00" y2="183.16" stroke="#7a7a7a" stroke-width="0.7" />
<line x1="532.50" y1="197.23" x2="534.00" y2="197.23" stroke="#7a7a7a" stroke-width="0.7" />
<line x1="532.50" y1="202.87" x2="534.00" y2="202.87" stroke="#7a7a7a" stroke-width="0.7" />
<line x1="532.50" y1="197.23" x2="532.50" y2="202.87" stroke="#7a7a7a" stroke-width="0.7" />
<line x1="531.00" y1="191.60" x2="534.00" y2="191.60" stroke="#7a7a7a" stroke-width="0.7" />
<line x1="531.00" y1="200.05" x2="532.50" y2="200.05" stroke="#7a7a7a" stroke-width="0.7" />
<line x1="531.00" y1="191.60" x2="531.00" y2="200.05" stroke="#7a7a7a" stroke-width="0.7" />
<line x1="528.70" y1="178.94" x2="531.00" y2="178.94" stroke="#7a7a7a" stroke-width="0.7" />
<line x1="528.70" y1="195.83" x2="531.00" y2="195.83" stroke="#7a7a7a" stroke-width="0.7" />
<line x1="528.70" y1="178.94" x2="528.70" y2="195.83" stroke="#7a7a7a" stroke-width="0.7" />
<line x1="526.50" y1="153.60" x2="528.70" y2="153.60" stroke="#7a7a7a" stroke-width="0.7" />
<line x1="526.50" y1="187.38" x2="528.70" y2="187.38" stroke="#7a7a7a" stroke-width="0.7" />
<line x1="526.50" y1="153.60" x2="526.50" y2="187.38" stroke="#7a7a7a" stroke-width="0.7" />
<line x1="522.00" y1="132.49" x2="529.30" y2="132.49" stroke="#7a7a7a" stroke-width="0.7" />
<line x1="522.00" y1="170.49" x2="526.50" y2="170.49" stroke="#7a7a7a" stroke-width="0.7" />
<line x1="522.00" y1="132.49" x2="522.00" y2="170.49" stroke="#7a7a7a" stroke-width="0.7" />
<line x1="530.50" y1="208.50" x2="534.00" y2="208.50" stroke="#7a7a7a" stroke-width="0.7" />
<line x1="530.50" y1="214.12" x2="534.00" y2="214.12" stroke="#7a7a7a" stroke-width="0.7" />
<line x1="530.50" y1="208.50" x2="530.50" y2="214.12" stroke="#7a7a7a" stroke-width="0.7" />
<line x1="532.40" y1="225.38" x2="534.00" y2="225.38" stroke="#7a7a7a" stroke-width="0.7" />
<line x1="532.40" y1="231.01" x2="534.00" y2="231.01" stroke="#7a7a7a" stroke-width="0.7" />
<line x1="532.40" y1="225.38" x2="532.40" y2="231.01" stroke="#7a7a7a" stroke-width="0.7" />
<line x1="530.50" y1="219.75" x2="534.00" y2="219.75" stroke="#7a7a7a" stroke-width="0.7" />
<line x1="530.50" y1="228.20" x2="532.40" y2="228.20" stroke="#7a7a7a" stroke-width="0.7" />
<line x1="530.50" y1="219.75" x2="530.50" y2="228.20" stroke="#7a7a7a" stroke-width="0.7" />
<line x1="528.70" y1="211.31" x2="530.50" y2="211.31" stroke="#7a7a7a" stroke-width="0.7" />
<line x1="528.70" y1="223.98" x2="530.50" y2="223.98" stroke="#7a7a7a" stroke-width="0.7" />
<line x1="528.70" y1="211.31" x2="528.70" y2="223.98" stroke="#7a7a7a" stroke-width="0.7" />
<line x1="530.80" y1="236.64" x2="534.00" y2="236.64" stroke="#7a7a7a" stroke-width="0.7" />
<line x1="530.80" y1="242.28" x2="534.00" y2="242.28" stroke="#7a7a7a" stroke-width="0.7" />
<line x1="530.80" y1="236.64" x2="530.80" y2="242.28" stroke="#7a7a7a" stroke-width="0.7" />
<line x1="530.80" y1="247.91" x2="534.00" y2="247.91" stroke="#7a7a7a" stroke-width="0.7" />
<line x1="530.80" y1="253.53" x2="534.00" y2="253.53" stroke="#7a7a7a" stroke-width="0.7" />
<line x1="530.80" y1="247.91" x2="530.80" y2="253.53" stroke="#7a7a7a" stroke-width="0.7" />
<line x1="528.00" y1="239.46" x2="530.80" y2="239.46" stroke="#7a7a7a" stroke-width="0.7" />
<line x1="528.00" y1="250.72" x2="530.80" y2="250.72" stroke="#7a7a7a" stroke-width="0.7" />
<line x1="528.00" y1="239.46" x2="528.00" y2="250.72" stroke="#7a7a7a" stroke-width="0.7" />
<line x1="530.80" y1="259.17" x2="534.00" y2="259.17" stroke="#7a7a7a" stroke-width="0.7" />
<line x1="530.80" y1="264.80" x2="534.00" y2="264.80" stroke="#7a7a7a" stroke-width="0.7" />
<line x1="530.80" y1="259.17" x2="530.80" y2="264.80" stroke="#7a7a7a" stroke-width="0.7" />
<line x1="532.60" y1="276.06" x2="534.00" y2="276.06" stroke="#7a7a7a" stroke-width="0.7" />
<line x1="532.60" y1="281.69" x2="534.00" y2="281.69" stroke="#7a7a7a" stroke-width="0.7" />
<line x1="532.60" y1="276.06" x2="532.60" y2="281.69" stroke="#7a7a7a" stroke-width="0.7" />
<line x1="530.80" y1="270.43" x2="534.00" y2="270.43" stroke="#7a7a7a" stroke-width="0.7" />
<line x1="530.80" y1="278.87" x2="532.60" y2="278.87" stroke="#7a7a7a" stroke-width="0.7" />
<line x1="530.80" y1="270.43" x2="530.80" y2="278.87" stroke="#7a7a7a" stroke-width="0.7" />
<line x1="528.00" y1="261.98" x2="530.80" y2="261.98" stroke="#7a7a7a" stroke-width="0.7" />
<line x1="528.00" y1="274.65" x2="530.80" y2="274.65" stroke="#7a7a7a" stroke-width="0.7" />
<line x1="528.00" y1="261.98" x2="528.00" y2="274.65" stroke="#7a7a7a" stroke-width="0.7" />
<line x1="524.50" y1="245.09" x2="528.00" y2="245.09" stroke="#7a7a7a" stroke-width="0.7" />
<line x1="524.50" y1="268.31" x2="528.00" y2="268.31" stroke="#7a7a7a" stroke-width="0.7" />
<line x1="524.50" y1="245.09" x2="524.50" y2="268.31" stroke="#7a7a7a" stroke-width="0.7" />
<line x1="521.50" y1="217.64" x2="528.70" y2="217.64" stroke="#7a7a7a" stroke-width="0.7" />
<line x1="521.50" y1="256.70" x2="524.50" y2="256.70" stroke="#7a7a7a" stroke-width="0.7" />
<line x1="521.50" y1="217.64" x2="521.50" y2="256.70" stroke="#7a7a7a" stroke-width="0.7" />
<line x1="519.60" y1="151.49" x2="522.00" y2="151.49" stroke="#7a7a7a" stroke-width="0.7" />
<line x1="519.60" y1="237.17" x2="521.50" y2="237.17" stroke="#7a7a7a" stroke-width="0.7" />
<line x1="519.60" y1="151.49" x2="519.60" y2="237.17" stroke="#7a7a7a" stroke-width="0.7" />
<line x1="503.50" y1="61.85" x2="519.60" y2="61.85" stroke="#7a7a7a" stroke-width="0.7" />
<line x1="503.50" y1="194.33" x2="519.60" y2="194.33" stroke="#7a7a7a" stroke-width="0.7" />
<line x1="503.50" y1="61.85" x2="503.50" y2="194.33" stroke="#7a7a7a" stroke-width="0.7" />
<text x="494.60" y="14.10" font-size="17.5" text-anchor="start" fill="#000" style="stroke:none">e</text>
<defs><linearGradient id="cb" x1="0" y1="0" x2="0" y2="1"><stop offset="0" stop-color="#ff0000"/><stop offset="0.08" stop-color="#ff0000"/><stop offset="0.505" stop-color="#000000"/><stop offset="0.93" stop-color="#00ff00"/><stop offset="1" stop-color="#00ff00"/></linearGradient></defs>
<rect x="720" y="13.4" width="7" height="105.6" fill="url(#cb)"/>
<text x="729.20" y="24.10" font-size="8.6" text-anchor="start" fill="#000" >1.5</text>
<text x="729.20" y="39.50" font-size="8.6" text-anchor="start" fill="#000" >1</text>
<text x="729.20" y="54.50" font-size="8.6" text-anchor="start" fill="#000" >0.5</text>
<text x="729.20" y="69.90" font-size="8.6" text-anchor="start" fill="#000" >0</text>
<text x="728.20" y="84.90" font-size="8.6" text-anchor="start" fill="#000" >-0.5</text>
<text x="728.20" y="100.20" font-size="8.6" text-anchor="start" fill="#000" >-1</text>
<text x="728.20" y="115.60" font-size="8.6" text-anchor="start" fill="#000" >-1.5</text>
</svg></body></html>
